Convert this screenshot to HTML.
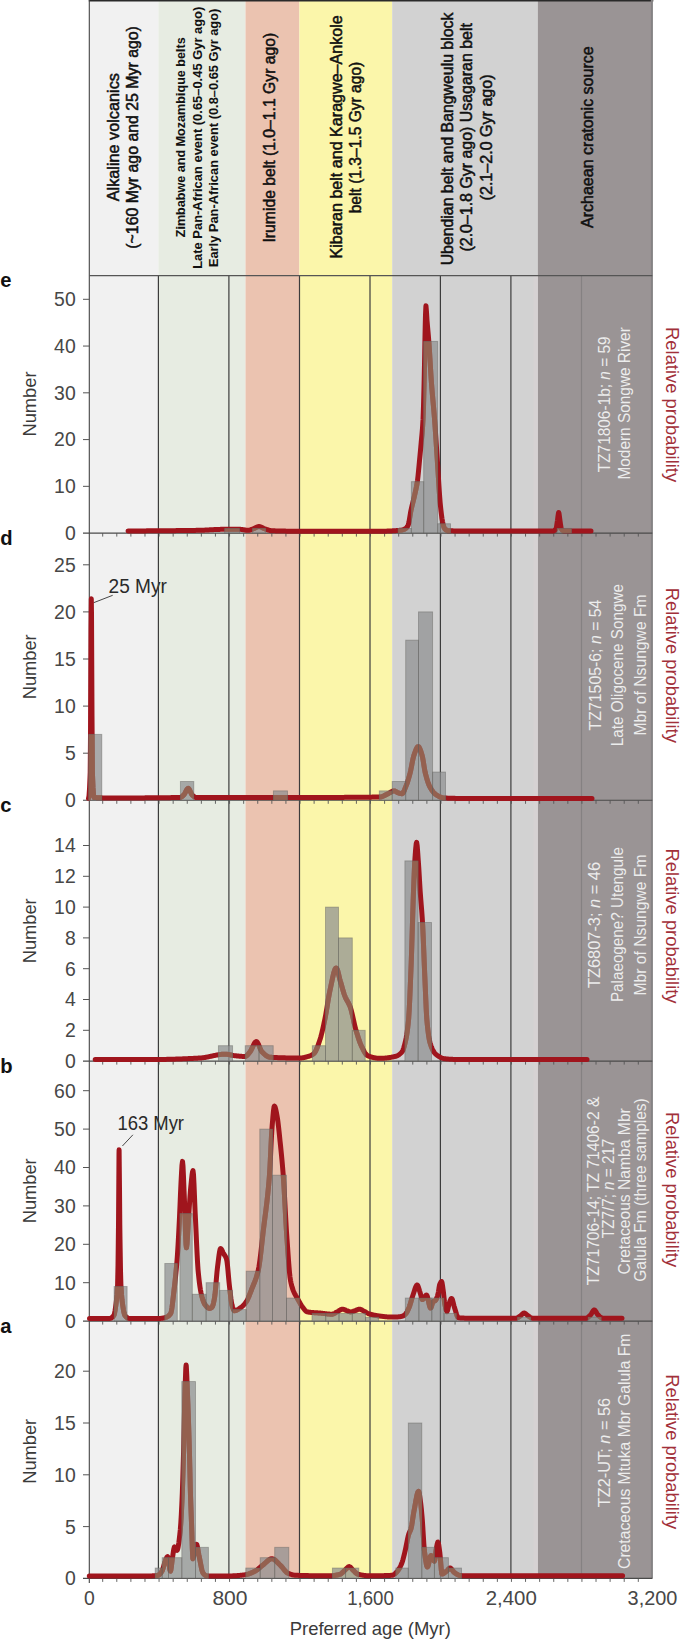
<!DOCTYPE html>
<html><head><meta charset="utf-8"><title>Detrital zircon age spectra</title>
<style>
html,body{margin:0;padding:0;background:#fff;}
body{width:685px;height:1640px;overflow:hidden;font-family:"Liberation Sans",sans-serif;}
svg{display:block;font-family:"Liberation Sans",sans-serif;}
</style></head>
<body>
<svg width="685" height="1640" viewBox="0 0 685 1640">
<rect width="685" height="1640" fill="#fff"/>
<rect x="89.3" y="0" width="69.10" height="1578.4" fill="#f1f1f1"/>
<rect x="158.4" y="0" width="87.10" height="1578.4" fill="#e7ece2"/>
<rect x="245.5" y="0" width="53.90" height="1578.4" fill="#ebc3b0"/>
<rect x="299.4" y="0" width="92.80" height="1578.4" fill="#fbf6aa"/>
<rect x="392.2" y="0" width="145.60" height="1578.4" fill="#d2d2d2"/>
<rect x="537.8" y="0" width="114.50" height="1578.4" fill="#9a9495"/>
<rect x="533.4" y="275.6" width="4.4" height="1302.8" fill="#d6d2d3"/>
<line x1="93.4" y1="602.8" x2="112.7" y2="595.3" stroke="#333" stroke-width="0.9"/>
<text x="108.6" y="592.7" font-size="19.4" font-weight="normal" fill="#2a2a2a" text-anchor="start" textLength="58.3" lengthAdjust="spacingAndGlyphs" >25 Myr</text>
<line x1="122.4" y1="1146.0" x2="132.9" y2="1134.8" stroke="#333" stroke-width="0.9"/>
<text x="117.4" y="1129.8" font-size="19.4" font-weight="normal" fill="#2a2a2a" text-anchor="start" textLength="66.6" lengthAdjust="spacingAndGlyphs" >163 Myr</text>
<line x1="158.4" y1="275.6" x2="158.4" y2="1578.4" stroke="#3c3c3c" stroke-width="1.2"/>
<line x1="228.9" y1="275.6" x2="228.9" y2="1578.4" stroke="#3c3c3c" stroke-width="1.2"/>
<line x1="299.5" y1="275.6" x2="299.5" y2="1578.4" stroke="#3c3c3c" stroke-width="1.2"/>
<line x1="370.0" y1="275.6" x2="370.0" y2="1578.4" stroke="#3c3c3c" stroke-width="1.2"/>
<line x1="440.4" y1="275.6" x2="440.4" y2="1578.4" stroke="#3c3c3c" stroke-width="1.2"/>
<line x1="510.9" y1="275.6" x2="510.9" y2="1578.4" stroke="#3c3c3c" stroke-width="1.2"/>
<line x1="581.5" y1="275.6" x2="581.5" y2="1578.4" stroke="#858182" stroke-width="1.2"/>
<line x1="88.8" y1="0.75" x2="653.3" y2="0.75" stroke="#2a2a2a" stroke-width="1.5"/>
<line x1="89.3" y1="0" x2="89.3" y2="1583" stroke="#444" stroke-width="1.1"/>
<line x1="651.9" y1="0" x2="651.9" y2="1578.4" stroke="#858384" stroke-width="2"/>
<line x1="89.3" y1="275.6" x2="652.3" y2="275.6" stroke="#555" stroke-width="1.1"/>
<line x1="83" y1="533.1" x2="652.3" y2="533.1" stroke="#4a4a4a" stroke-width="1.1"/>
<line x1="102.69" y1="533.1" x2="102.69" y2="536.6" stroke="#555" stroke-width="0.9"/>
<line x1="116.79" y1="533.1" x2="116.79" y2="536.6" stroke="#555" stroke-width="0.9"/>
<line x1="130.88" y1="533.1" x2="130.88" y2="536.6" stroke="#555" stroke-width="0.9"/>
<line x1="144.98" y1="533.1" x2="144.98" y2="536.6" stroke="#555" stroke-width="0.9"/>
<line x1="159.07" y1="533.1" x2="159.07" y2="536.6" stroke="#555" stroke-width="0.9"/>
<line x1="173.17" y1="533.1" x2="173.17" y2="536.6" stroke="#555" stroke-width="0.9"/>
<line x1="187.26" y1="533.1" x2="187.26" y2="536.6" stroke="#555" stroke-width="0.9"/>
<line x1="201.36" y1="533.1" x2="201.36" y2="536.6" stroke="#555" stroke-width="0.9"/>
<line x1="215.45" y1="533.1" x2="215.45" y2="536.6" stroke="#555" stroke-width="0.9"/>
<line x1="229.55" y1="533.1" x2="229.55" y2="536.6" stroke="#555" stroke-width="0.9"/>
<line x1="243.65" y1="533.1" x2="243.65" y2="536.6" stroke="#555" stroke-width="0.9"/>
<line x1="257.74" y1="533.1" x2="257.74" y2="536.6" stroke="#555" stroke-width="0.9"/>
<line x1="271.84" y1="533.1" x2="271.84" y2="536.6" stroke="#555" stroke-width="0.9"/>
<line x1="285.93" y1="533.1" x2="285.93" y2="536.6" stroke="#555" stroke-width="0.9"/>
<line x1="300.02" y1="533.1" x2="300.02" y2="536.6" stroke="#555" stroke-width="0.9"/>
<line x1="314.12" y1="533.1" x2="314.12" y2="536.6" stroke="#555" stroke-width="0.9"/>
<line x1="328.22" y1="533.1" x2="328.22" y2="536.6" stroke="#555" stroke-width="0.9"/>
<line x1="342.31" y1="533.1" x2="342.31" y2="536.6" stroke="#555" stroke-width="0.9"/>
<line x1="356.40" y1="533.1" x2="356.40" y2="536.6" stroke="#555" stroke-width="0.9"/>
<line x1="370.50" y1="533.1" x2="370.50" y2="536.6" stroke="#555" stroke-width="0.9"/>
<line x1="384.60" y1="533.1" x2="384.60" y2="536.6" stroke="#555" stroke-width="0.9"/>
<line x1="398.69" y1="533.1" x2="398.69" y2="536.6" stroke="#555" stroke-width="0.9"/>
<line x1="412.78" y1="533.1" x2="412.78" y2="536.6" stroke="#555" stroke-width="0.9"/>
<line x1="426.88" y1="533.1" x2="426.88" y2="536.6" stroke="#555" stroke-width="0.9"/>
<line x1="440.98" y1="533.1" x2="440.98" y2="536.6" stroke="#555" stroke-width="0.9"/>
<line x1="455.07" y1="533.1" x2="455.07" y2="536.6" stroke="#555" stroke-width="0.9"/>
<line x1="469.16" y1="533.1" x2="469.16" y2="536.6" stroke="#555" stroke-width="0.9"/>
<line x1="483.26" y1="533.1" x2="483.26" y2="536.6" stroke="#555" stroke-width="0.9"/>
<line x1="497.36" y1="533.1" x2="497.36" y2="536.6" stroke="#555" stroke-width="0.9"/>
<line x1="511.45" y1="533.1" x2="511.45" y2="536.6" stroke="#555" stroke-width="0.9"/>
<line x1="525.54" y1="533.1" x2="525.54" y2="536.6" stroke="#555" stroke-width="0.9"/>
<line x1="539.64" y1="533.1" x2="539.64" y2="536.6" stroke="#555" stroke-width="0.9"/>
<line x1="553.74" y1="533.1" x2="553.74" y2="536.6" stroke="#555" stroke-width="0.9"/>
<line x1="567.83" y1="533.1" x2="567.83" y2="536.6" stroke="#555" stroke-width="0.9"/>
<line x1="581.93" y1="533.1" x2="581.93" y2="536.6" stroke="#555" stroke-width="0.9"/>
<line x1="596.02" y1="533.1" x2="596.02" y2="536.6" stroke="#555" stroke-width="0.9"/>
<line x1="610.12" y1="533.1" x2="610.12" y2="536.6" stroke="#555" stroke-width="0.9"/>
<line x1="624.21" y1="533.1" x2="624.21" y2="536.6" stroke="#555" stroke-width="0.9"/>
<line x1="638.31" y1="533.1" x2="638.31" y2="536.6" stroke="#555" stroke-width="0.9"/>
<line x1="83" y1="486.34" x2="89.3" y2="486.34" stroke="#555" stroke-width="1"/>
<text x="75.7" y="493.24" font-size="19.4" font-weight="normal" fill="#474747" text-anchor="end" >10</text>
<line x1="83" y1="439.58" x2="89.3" y2="439.58" stroke="#555" stroke-width="1"/>
<text x="75.7" y="446.48" font-size="19.4" font-weight="normal" fill="#474747" text-anchor="end" >20</text>
<line x1="83" y1="392.82" x2="89.3" y2="392.82" stroke="#555" stroke-width="1"/>
<text x="75.7" y="399.72" font-size="19.4" font-weight="normal" fill="#474747" text-anchor="end" >30</text>
<line x1="83" y1="346.06" x2="89.3" y2="346.06" stroke="#555" stroke-width="1"/>
<text x="75.7" y="352.96" font-size="19.4" font-weight="normal" fill="#474747" text-anchor="end" >40</text>
<line x1="83" y1="299.30" x2="89.3" y2="299.30" stroke="#555" stroke-width="1"/>
<text x="75.7" y="306.20" font-size="19.4" font-weight="normal" fill="#474747" text-anchor="end" >50</text>
<text x="75.7" y="540.00" font-size="19.4" font-weight="normal" fill="#474747" text-anchor="end" >0</text>
<line x1="83" y1="800.3" x2="652.3" y2="800.3" stroke="#4a4a4a" stroke-width="1.1"/>
<line x1="102.69" y1="800.3" x2="102.69" y2="803.8" stroke="#555" stroke-width="0.9"/>
<line x1="116.79" y1="800.3" x2="116.79" y2="803.8" stroke="#555" stroke-width="0.9"/>
<line x1="130.88" y1="800.3" x2="130.88" y2="803.8" stroke="#555" stroke-width="0.9"/>
<line x1="144.98" y1="800.3" x2="144.98" y2="803.8" stroke="#555" stroke-width="0.9"/>
<line x1="159.07" y1="800.3" x2="159.07" y2="803.8" stroke="#555" stroke-width="0.9"/>
<line x1="173.17" y1="800.3" x2="173.17" y2="803.8" stroke="#555" stroke-width="0.9"/>
<line x1="187.26" y1="800.3" x2="187.26" y2="803.8" stroke="#555" stroke-width="0.9"/>
<line x1="201.36" y1="800.3" x2="201.36" y2="803.8" stroke="#555" stroke-width="0.9"/>
<line x1="215.45" y1="800.3" x2="215.45" y2="803.8" stroke="#555" stroke-width="0.9"/>
<line x1="229.55" y1="800.3" x2="229.55" y2="803.8" stroke="#555" stroke-width="0.9"/>
<line x1="243.65" y1="800.3" x2="243.65" y2="803.8" stroke="#555" stroke-width="0.9"/>
<line x1="257.74" y1="800.3" x2="257.74" y2="803.8" stroke="#555" stroke-width="0.9"/>
<line x1="271.84" y1="800.3" x2="271.84" y2="803.8" stroke="#555" stroke-width="0.9"/>
<line x1="285.93" y1="800.3" x2="285.93" y2="803.8" stroke="#555" stroke-width="0.9"/>
<line x1="300.02" y1="800.3" x2="300.02" y2="803.8" stroke="#555" stroke-width="0.9"/>
<line x1="314.12" y1="800.3" x2="314.12" y2="803.8" stroke="#555" stroke-width="0.9"/>
<line x1="328.22" y1="800.3" x2="328.22" y2="803.8" stroke="#555" stroke-width="0.9"/>
<line x1="342.31" y1="800.3" x2="342.31" y2="803.8" stroke="#555" stroke-width="0.9"/>
<line x1="356.40" y1="800.3" x2="356.40" y2="803.8" stroke="#555" stroke-width="0.9"/>
<line x1="370.50" y1="800.3" x2="370.50" y2="803.8" stroke="#555" stroke-width="0.9"/>
<line x1="384.60" y1="800.3" x2="384.60" y2="803.8" stroke="#555" stroke-width="0.9"/>
<line x1="398.69" y1="800.3" x2="398.69" y2="803.8" stroke="#555" stroke-width="0.9"/>
<line x1="412.78" y1="800.3" x2="412.78" y2="803.8" stroke="#555" stroke-width="0.9"/>
<line x1="426.88" y1="800.3" x2="426.88" y2="803.8" stroke="#555" stroke-width="0.9"/>
<line x1="440.98" y1="800.3" x2="440.98" y2="803.8" stroke="#555" stroke-width="0.9"/>
<line x1="455.07" y1="800.3" x2="455.07" y2="803.8" stroke="#555" stroke-width="0.9"/>
<line x1="469.16" y1="800.3" x2="469.16" y2="803.8" stroke="#555" stroke-width="0.9"/>
<line x1="483.26" y1="800.3" x2="483.26" y2="803.8" stroke="#555" stroke-width="0.9"/>
<line x1="497.36" y1="800.3" x2="497.36" y2="803.8" stroke="#555" stroke-width="0.9"/>
<line x1="511.45" y1="800.3" x2="511.45" y2="803.8" stroke="#555" stroke-width="0.9"/>
<line x1="525.54" y1="800.3" x2="525.54" y2="803.8" stroke="#555" stroke-width="0.9"/>
<line x1="539.64" y1="800.3" x2="539.64" y2="803.8" stroke="#555" stroke-width="0.9"/>
<line x1="553.74" y1="800.3" x2="553.74" y2="803.8" stroke="#555" stroke-width="0.9"/>
<line x1="567.83" y1="800.3" x2="567.83" y2="803.8" stroke="#555" stroke-width="0.9"/>
<line x1="581.93" y1="800.3" x2="581.93" y2="803.8" stroke="#555" stroke-width="0.9"/>
<line x1="596.02" y1="800.3" x2="596.02" y2="803.8" stroke="#555" stroke-width="0.9"/>
<line x1="610.12" y1="800.3" x2="610.12" y2="803.8" stroke="#555" stroke-width="0.9"/>
<line x1="624.21" y1="800.3" x2="624.21" y2="803.8" stroke="#555" stroke-width="0.9"/>
<line x1="638.31" y1="800.3" x2="638.31" y2="803.8" stroke="#555" stroke-width="0.9"/>
<line x1="83" y1="753.20" x2="89.3" y2="753.20" stroke="#555" stroke-width="1"/>
<text x="75.7" y="760.10" font-size="19.4" font-weight="normal" fill="#474747" text-anchor="end" >5</text>
<line x1="83" y1="706.10" x2="89.3" y2="706.10" stroke="#555" stroke-width="1"/>
<text x="75.7" y="713.00" font-size="19.4" font-weight="normal" fill="#474747" text-anchor="end" >10</text>
<line x1="83" y1="659.00" x2="89.3" y2="659.00" stroke="#555" stroke-width="1"/>
<text x="75.7" y="665.90" font-size="19.4" font-weight="normal" fill="#474747" text-anchor="end" >15</text>
<line x1="83" y1="611.90" x2="89.3" y2="611.90" stroke="#555" stroke-width="1"/>
<text x="75.7" y="618.80" font-size="19.4" font-weight="normal" fill="#474747" text-anchor="end" >20</text>
<line x1="83" y1="564.80" x2="89.3" y2="564.80" stroke="#555" stroke-width="1"/>
<text x="75.7" y="571.70" font-size="19.4" font-weight="normal" fill="#474747" text-anchor="end" >25</text>
<text x="75.7" y="807.20" font-size="19.4" font-weight="normal" fill="#474747" text-anchor="end" >0</text>
<line x1="83" y1="1061.1" x2="652.3" y2="1061.1" stroke="#4a4a4a" stroke-width="1.1"/>
<line x1="102.69" y1="1061.1" x2="102.69" y2="1064.6" stroke="#555" stroke-width="0.9"/>
<line x1="116.79" y1="1061.1" x2="116.79" y2="1064.6" stroke="#555" stroke-width="0.9"/>
<line x1="130.88" y1="1061.1" x2="130.88" y2="1064.6" stroke="#555" stroke-width="0.9"/>
<line x1="144.98" y1="1061.1" x2="144.98" y2="1064.6" stroke="#555" stroke-width="0.9"/>
<line x1="159.07" y1="1061.1" x2="159.07" y2="1064.6" stroke="#555" stroke-width="0.9"/>
<line x1="173.17" y1="1061.1" x2="173.17" y2="1064.6" stroke="#555" stroke-width="0.9"/>
<line x1="187.26" y1="1061.1" x2="187.26" y2="1064.6" stroke="#555" stroke-width="0.9"/>
<line x1="201.36" y1="1061.1" x2="201.36" y2="1064.6" stroke="#555" stroke-width="0.9"/>
<line x1="215.45" y1="1061.1" x2="215.45" y2="1064.6" stroke="#555" stroke-width="0.9"/>
<line x1="229.55" y1="1061.1" x2="229.55" y2="1064.6" stroke="#555" stroke-width="0.9"/>
<line x1="243.65" y1="1061.1" x2="243.65" y2="1064.6" stroke="#555" stroke-width="0.9"/>
<line x1="257.74" y1="1061.1" x2="257.74" y2="1064.6" stroke="#555" stroke-width="0.9"/>
<line x1="271.84" y1="1061.1" x2="271.84" y2="1064.6" stroke="#555" stroke-width="0.9"/>
<line x1="285.93" y1="1061.1" x2="285.93" y2="1064.6" stroke="#555" stroke-width="0.9"/>
<line x1="300.02" y1="1061.1" x2="300.02" y2="1064.6" stroke="#555" stroke-width="0.9"/>
<line x1="314.12" y1="1061.1" x2="314.12" y2="1064.6" stroke="#555" stroke-width="0.9"/>
<line x1="328.22" y1="1061.1" x2="328.22" y2="1064.6" stroke="#555" stroke-width="0.9"/>
<line x1="342.31" y1="1061.1" x2="342.31" y2="1064.6" stroke="#555" stroke-width="0.9"/>
<line x1="356.40" y1="1061.1" x2="356.40" y2="1064.6" stroke="#555" stroke-width="0.9"/>
<line x1="370.50" y1="1061.1" x2="370.50" y2="1064.6" stroke="#555" stroke-width="0.9"/>
<line x1="384.60" y1="1061.1" x2="384.60" y2="1064.6" stroke="#555" stroke-width="0.9"/>
<line x1="398.69" y1="1061.1" x2="398.69" y2="1064.6" stroke="#555" stroke-width="0.9"/>
<line x1="412.78" y1="1061.1" x2="412.78" y2="1064.6" stroke="#555" stroke-width="0.9"/>
<line x1="426.88" y1="1061.1" x2="426.88" y2="1064.6" stroke="#555" stroke-width="0.9"/>
<line x1="440.98" y1="1061.1" x2="440.98" y2="1064.6" stroke="#555" stroke-width="0.9"/>
<line x1="455.07" y1="1061.1" x2="455.07" y2="1064.6" stroke="#555" stroke-width="0.9"/>
<line x1="469.16" y1="1061.1" x2="469.16" y2="1064.6" stroke="#555" stroke-width="0.9"/>
<line x1="483.26" y1="1061.1" x2="483.26" y2="1064.6" stroke="#555" stroke-width="0.9"/>
<line x1="497.36" y1="1061.1" x2="497.36" y2="1064.6" stroke="#555" stroke-width="0.9"/>
<line x1="511.45" y1="1061.1" x2="511.45" y2="1064.6" stroke="#555" stroke-width="0.9"/>
<line x1="525.54" y1="1061.1" x2="525.54" y2="1064.6" stroke="#555" stroke-width="0.9"/>
<line x1="539.64" y1="1061.1" x2="539.64" y2="1064.6" stroke="#555" stroke-width="0.9"/>
<line x1="553.74" y1="1061.1" x2="553.74" y2="1064.6" stroke="#555" stroke-width="0.9"/>
<line x1="567.83" y1="1061.1" x2="567.83" y2="1064.6" stroke="#555" stroke-width="0.9"/>
<line x1="581.93" y1="1061.1" x2="581.93" y2="1064.6" stroke="#555" stroke-width="0.9"/>
<line x1="596.02" y1="1061.1" x2="596.02" y2="1064.6" stroke="#555" stroke-width="0.9"/>
<line x1="610.12" y1="1061.1" x2="610.12" y2="1064.6" stroke="#555" stroke-width="0.9"/>
<line x1="624.21" y1="1061.1" x2="624.21" y2="1064.6" stroke="#555" stroke-width="0.9"/>
<line x1="638.31" y1="1061.1" x2="638.31" y2="1064.6" stroke="#555" stroke-width="0.9"/>
<line x1="83" y1="1030.30" x2="89.3" y2="1030.30" stroke="#555" stroke-width="1"/>
<text x="75.7" y="1037.20" font-size="19.4" font-weight="normal" fill="#474747" text-anchor="end" >2</text>
<line x1="83" y1="999.50" x2="89.3" y2="999.50" stroke="#555" stroke-width="1"/>
<text x="75.7" y="1006.40" font-size="19.4" font-weight="normal" fill="#474747" text-anchor="end" >4</text>
<line x1="83" y1="968.70" x2="89.3" y2="968.70" stroke="#555" stroke-width="1"/>
<text x="75.7" y="975.60" font-size="19.4" font-weight="normal" fill="#474747" text-anchor="end" >6</text>
<line x1="83" y1="937.90" x2="89.3" y2="937.90" stroke="#555" stroke-width="1"/>
<text x="75.7" y="944.80" font-size="19.4" font-weight="normal" fill="#474747" text-anchor="end" >8</text>
<line x1="83" y1="907.10" x2="89.3" y2="907.10" stroke="#555" stroke-width="1"/>
<text x="75.7" y="914.00" font-size="19.4" font-weight="normal" fill="#474747" text-anchor="end" >10</text>
<line x1="83" y1="876.30" x2="89.3" y2="876.30" stroke="#555" stroke-width="1"/>
<text x="75.7" y="883.20" font-size="19.4" font-weight="normal" fill="#474747" text-anchor="end" >12</text>
<line x1="83" y1="845.50" x2="89.3" y2="845.50" stroke="#555" stroke-width="1"/>
<text x="75.7" y="852.40" font-size="19.4" font-weight="normal" fill="#474747" text-anchor="end" >14</text>
<text x="75.7" y="1068.00" font-size="19.4" font-weight="normal" fill="#474747" text-anchor="end" >0</text>
<line x1="83" y1="1321.1" x2="652.3" y2="1321.1" stroke="#4a4a4a" stroke-width="1.1"/>
<line x1="102.69" y1="1321.1" x2="102.69" y2="1324.6" stroke="#555" stroke-width="0.9"/>
<line x1="116.79" y1="1321.1" x2="116.79" y2="1324.6" stroke="#555" stroke-width="0.9"/>
<line x1="130.88" y1="1321.1" x2="130.88" y2="1324.6" stroke="#555" stroke-width="0.9"/>
<line x1="144.98" y1="1321.1" x2="144.98" y2="1324.6" stroke="#555" stroke-width="0.9"/>
<line x1="159.07" y1="1321.1" x2="159.07" y2="1324.6" stroke="#555" stroke-width="0.9"/>
<line x1="173.17" y1="1321.1" x2="173.17" y2="1324.6" stroke="#555" stroke-width="0.9"/>
<line x1="187.26" y1="1321.1" x2="187.26" y2="1324.6" stroke="#555" stroke-width="0.9"/>
<line x1="201.36" y1="1321.1" x2="201.36" y2="1324.6" stroke="#555" stroke-width="0.9"/>
<line x1="215.45" y1="1321.1" x2="215.45" y2="1324.6" stroke="#555" stroke-width="0.9"/>
<line x1="229.55" y1="1321.1" x2="229.55" y2="1324.6" stroke="#555" stroke-width="0.9"/>
<line x1="243.65" y1="1321.1" x2="243.65" y2="1324.6" stroke="#555" stroke-width="0.9"/>
<line x1="257.74" y1="1321.1" x2="257.74" y2="1324.6" stroke="#555" stroke-width="0.9"/>
<line x1="271.84" y1="1321.1" x2="271.84" y2="1324.6" stroke="#555" stroke-width="0.9"/>
<line x1="285.93" y1="1321.1" x2="285.93" y2="1324.6" stroke="#555" stroke-width="0.9"/>
<line x1="300.02" y1="1321.1" x2="300.02" y2="1324.6" stroke="#555" stroke-width="0.9"/>
<line x1="314.12" y1="1321.1" x2="314.12" y2="1324.6" stroke="#555" stroke-width="0.9"/>
<line x1="328.22" y1="1321.1" x2="328.22" y2="1324.6" stroke="#555" stroke-width="0.9"/>
<line x1="342.31" y1="1321.1" x2="342.31" y2="1324.6" stroke="#555" stroke-width="0.9"/>
<line x1="356.40" y1="1321.1" x2="356.40" y2="1324.6" stroke="#555" stroke-width="0.9"/>
<line x1="370.50" y1="1321.1" x2="370.50" y2="1324.6" stroke="#555" stroke-width="0.9"/>
<line x1="384.60" y1="1321.1" x2="384.60" y2="1324.6" stroke="#555" stroke-width="0.9"/>
<line x1="398.69" y1="1321.1" x2="398.69" y2="1324.6" stroke="#555" stroke-width="0.9"/>
<line x1="412.78" y1="1321.1" x2="412.78" y2="1324.6" stroke="#555" stroke-width="0.9"/>
<line x1="426.88" y1="1321.1" x2="426.88" y2="1324.6" stroke="#555" stroke-width="0.9"/>
<line x1="440.98" y1="1321.1" x2="440.98" y2="1324.6" stroke="#555" stroke-width="0.9"/>
<line x1="455.07" y1="1321.1" x2="455.07" y2="1324.6" stroke="#555" stroke-width="0.9"/>
<line x1="469.16" y1="1321.1" x2="469.16" y2="1324.6" stroke="#555" stroke-width="0.9"/>
<line x1="483.26" y1="1321.1" x2="483.26" y2="1324.6" stroke="#555" stroke-width="0.9"/>
<line x1="497.36" y1="1321.1" x2="497.36" y2="1324.6" stroke="#555" stroke-width="0.9"/>
<line x1="511.45" y1="1321.1" x2="511.45" y2="1324.6" stroke="#555" stroke-width="0.9"/>
<line x1="525.54" y1="1321.1" x2="525.54" y2="1324.6" stroke="#555" stroke-width="0.9"/>
<line x1="539.64" y1="1321.1" x2="539.64" y2="1324.6" stroke="#555" stroke-width="0.9"/>
<line x1="553.74" y1="1321.1" x2="553.74" y2="1324.6" stroke="#555" stroke-width="0.9"/>
<line x1="567.83" y1="1321.1" x2="567.83" y2="1324.6" stroke="#555" stroke-width="0.9"/>
<line x1="581.93" y1="1321.1" x2="581.93" y2="1324.6" stroke="#555" stroke-width="0.9"/>
<line x1="596.02" y1="1321.1" x2="596.02" y2="1324.6" stroke="#555" stroke-width="0.9"/>
<line x1="610.12" y1="1321.1" x2="610.12" y2="1324.6" stroke="#555" stroke-width="0.9"/>
<line x1="624.21" y1="1321.1" x2="624.21" y2="1324.6" stroke="#555" stroke-width="0.9"/>
<line x1="638.31" y1="1321.1" x2="638.31" y2="1324.6" stroke="#555" stroke-width="0.9"/>
<line x1="83" y1="1282.70" x2="89.3" y2="1282.70" stroke="#555" stroke-width="1"/>
<text x="75.7" y="1289.60" font-size="19.4" font-weight="normal" fill="#474747" text-anchor="end" >10</text>
<line x1="83" y1="1244.30" x2="89.3" y2="1244.30" stroke="#555" stroke-width="1"/>
<text x="75.7" y="1251.20" font-size="19.4" font-weight="normal" fill="#474747" text-anchor="end" >20</text>
<line x1="83" y1="1205.90" x2="89.3" y2="1205.90" stroke="#555" stroke-width="1"/>
<text x="75.7" y="1212.80" font-size="19.4" font-weight="normal" fill="#474747" text-anchor="end" >30</text>
<line x1="83" y1="1167.50" x2="89.3" y2="1167.50" stroke="#555" stroke-width="1"/>
<text x="75.7" y="1174.40" font-size="19.4" font-weight="normal" fill="#474747" text-anchor="end" >40</text>
<line x1="83" y1="1129.10" x2="89.3" y2="1129.10" stroke="#555" stroke-width="1"/>
<text x="75.7" y="1136.00" font-size="19.4" font-weight="normal" fill="#474747" text-anchor="end" >50</text>
<line x1="83" y1="1090.70" x2="89.3" y2="1090.70" stroke="#555" stroke-width="1"/>
<text x="75.7" y="1097.60" font-size="19.4" font-weight="normal" fill="#474747" text-anchor="end" >60</text>
<text x="75.7" y="1328.00" font-size="19.4" font-weight="normal" fill="#474747" text-anchor="end" >0</text>
<line x1="83" y1="1578.4" x2="652.3" y2="1578.4" stroke="#4a4a4a" stroke-width="1.1"/>
<line x1="102.69" y1="1578.4" x2="102.69" y2="1581.9" stroke="#555" stroke-width="0.9"/>
<line x1="116.79" y1="1578.4" x2="116.79" y2="1581.9" stroke="#555" stroke-width="0.9"/>
<line x1="130.88" y1="1578.4" x2="130.88" y2="1581.9" stroke="#555" stroke-width="0.9"/>
<line x1="144.98" y1="1578.4" x2="144.98" y2="1581.9" stroke="#555" stroke-width="0.9"/>
<line x1="159.07" y1="1578.4" x2="159.07" y2="1581.9" stroke="#555" stroke-width="0.9"/>
<line x1="173.17" y1="1578.4" x2="173.17" y2="1581.9" stroke="#555" stroke-width="0.9"/>
<line x1="187.26" y1="1578.4" x2="187.26" y2="1581.9" stroke="#555" stroke-width="0.9"/>
<line x1="201.36" y1="1578.4" x2="201.36" y2="1581.9" stroke="#555" stroke-width="0.9"/>
<line x1="215.45" y1="1578.4" x2="215.45" y2="1581.9" stroke="#555" stroke-width="0.9"/>
<line x1="229.55" y1="1578.4" x2="229.55" y2="1581.9" stroke="#555" stroke-width="0.9"/>
<line x1="243.65" y1="1578.4" x2="243.65" y2="1581.9" stroke="#555" stroke-width="0.9"/>
<line x1="257.74" y1="1578.4" x2="257.74" y2="1581.9" stroke="#555" stroke-width="0.9"/>
<line x1="271.84" y1="1578.4" x2="271.84" y2="1581.9" stroke="#555" stroke-width="0.9"/>
<line x1="285.93" y1="1578.4" x2="285.93" y2="1581.9" stroke="#555" stroke-width="0.9"/>
<line x1="300.02" y1="1578.4" x2="300.02" y2="1581.9" stroke="#555" stroke-width="0.9"/>
<line x1="314.12" y1="1578.4" x2="314.12" y2="1581.9" stroke="#555" stroke-width="0.9"/>
<line x1="328.22" y1="1578.4" x2="328.22" y2="1581.9" stroke="#555" stroke-width="0.9"/>
<line x1="342.31" y1="1578.4" x2="342.31" y2="1581.9" stroke="#555" stroke-width="0.9"/>
<line x1="356.40" y1="1578.4" x2="356.40" y2="1581.9" stroke="#555" stroke-width="0.9"/>
<line x1="370.50" y1="1578.4" x2="370.50" y2="1581.9" stroke="#555" stroke-width="0.9"/>
<line x1="384.60" y1="1578.4" x2="384.60" y2="1581.9" stroke="#555" stroke-width="0.9"/>
<line x1="398.69" y1="1578.4" x2="398.69" y2="1581.9" stroke="#555" stroke-width="0.9"/>
<line x1="412.78" y1="1578.4" x2="412.78" y2="1581.9" stroke="#555" stroke-width="0.9"/>
<line x1="426.88" y1="1578.4" x2="426.88" y2="1581.9" stroke="#555" stroke-width="0.9"/>
<line x1="440.98" y1="1578.4" x2="440.98" y2="1581.9" stroke="#555" stroke-width="0.9"/>
<line x1="455.07" y1="1578.4" x2="455.07" y2="1581.9" stroke="#555" stroke-width="0.9"/>
<line x1="469.16" y1="1578.4" x2="469.16" y2="1581.9" stroke="#555" stroke-width="0.9"/>
<line x1="483.26" y1="1578.4" x2="483.26" y2="1581.9" stroke="#555" stroke-width="0.9"/>
<line x1="497.36" y1="1578.4" x2="497.36" y2="1581.9" stroke="#555" stroke-width="0.9"/>
<line x1="511.45" y1="1578.4" x2="511.45" y2="1581.9" stroke="#555" stroke-width="0.9"/>
<line x1="525.54" y1="1578.4" x2="525.54" y2="1581.9" stroke="#555" stroke-width="0.9"/>
<line x1="539.64" y1="1578.4" x2="539.64" y2="1581.9" stroke="#555" stroke-width="0.9"/>
<line x1="553.74" y1="1578.4" x2="553.74" y2="1581.9" stroke="#555" stroke-width="0.9"/>
<line x1="567.83" y1="1578.4" x2="567.83" y2="1581.9" stroke="#555" stroke-width="0.9"/>
<line x1="581.93" y1="1578.4" x2="581.93" y2="1581.9" stroke="#555" stroke-width="0.9"/>
<line x1="596.02" y1="1578.4" x2="596.02" y2="1581.9" stroke="#555" stroke-width="0.9"/>
<line x1="610.12" y1="1578.4" x2="610.12" y2="1581.9" stroke="#555" stroke-width="0.9"/>
<line x1="624.21" y1="1578.4" x2="624.21" y2="1581.9" stroke="#555" stroke-width="0.9"/>
<line x1="638.31" y1="1578.4" x2="638.31" y2="1581.9" stroke="#555" stroke-width="0.9"/>
<line x1="83" y1="1526.60" x2="89.3" y2="1526.60" stroke="#555" stroke-width="1"/>
<text x="75.7" y="1533.50" font-size="19.4" font-weight="normal" fill="#474747" text-anchor="end" >5</text>
<line x1="83" y1="1474.80" x2="89.3" y2="1474.80" stroke="#555" stroke-width="1"/>
<text x="75.7" y="1481.70" font-size="19.4" font-weight="normal" fill="#474747" text-anchor="end" >10</text>
<line x1="83" y1="1423.00" x2="89.3" y2="1423.00" stroke="#555" stroke-width="1"/>
<text x="75.7" y="1429.90" font-size="19.4" font-weight="normal" fill="#474747" text-anchor="end" >15</text>
<line x1="83" y1="1371.20" x2="89.3" y2="1371.20" stroke="#555" stroke-width="1"/>
<text x="75.7" y="1378.10" font-size="19.4" font-weight="normal" fill="#474747" text-anchor="end" >20</text>
<text x="75.7" y="1585.30" font-size="19.4" font-weight="normal" fill="#474747" text-anchor="end" >0</text>
<defs><path id="cve" d="M128.00,531.00 L128.50,530.99 L129.00,530.99 L129.50,530.99 L130.00,530.98 L130.50,530.98 L131.00,530.98 L131.50,530.98 L132.00,530.97 L132.50,530.97 L133.00,530.97 L133.50,530.96 L134.00,530.96 L134.50,530.96 L135.00,530.95 L135.50,530.95 L136.00,530.95 L136.50,530.95 L137.00,530.94 L137.50,530.94 L138.00,530.94 L138.50,530.93 L139.00,530.93 L139.50,530.93 L140.00,530.92 L140.50,530.92 L141.00,530.91 L141.50,530.91 L142.00,530.91 L142.50,530.90 L143.00,530.90 L143.50,530.90 L144.00,530.89 L144.50,530.89 L145.00,530.89 L145.50,530.88 L146.00,530.88 L146.50,530.87 L147.00,530.87 L147.50,530.87 L148.00,530.86 L148.50,530.86 L149.00,530.85 L149.50,530.85 L150.00,530.85 L150.50,530.84 L151.00,530.84 L151.50,530.83 L152.00,530.83 L152.50,530.83 L153.00,530.82 L153.50,530.82 L154.00,530.81 L154.50,530.81 L155.00,530.81 L155.50,530.80 L156.00,530.80 L156.50,530.79 L157.00,530.79 L157.50,530.78 L158.00,530.78 L158.50,530.78 L159.00,530.77 L159.50,530.77 L160.00,530.76 L160.50,530.76 L161.00,530.75 L161.50,530.75 L162.00,530.74 L162.50,530.74 L163.00,530.74 L163.50,530.73 L164.00,530.73 L164.50,530.72 L165.00,530.72 L165.50,530.71 L166.00,530.71 L166.50,530.71 L167.00,530.70 L167.50,530.70 L168.00,530.69 L168.50,530.69 L169.00,530.68 L169.50,530.68 L170.00,530.68 L170.50,530.67 L171.00,530.67 L171.50,530.66 L172.00,530.66 L172.50,530.65 L173.00,530.65 L173.50,530.64 L174.00,530.64 L174.50,530.63 L175.00,530.63 L175.50,530.63 L176.00,530.62 L176.50,530.62 L177.00,530.61 L177.50,530.61 L178.00,530.60 L178.50,530.60 L179.00,530.59 L179.50,530.59 L180.00,530.58 L180.50,530.58 L181.00,530.57 L181.50,530.56 L182.00,530.56 L182.50,530.55 L183.00,530.55 L183.50,530.54 L184.00,530.54 L184.50,530.53 L185.00,530.52 L185.50,530.52 L186.00,530.51 L186.50,530.51 L187.00,530.50 L187.50,530.49 L188.00,530.49 L188.50,530.48 L189.00,530.47 L189.50,530.47 L190.00,530.46 L190.50,530.45 L191.00,530.45 L191.50,530.44 L192.00,530.43 L192.50,530.42 L193.00,530.42 L193.50,530.41 L194.00,530.40 L194.50,530.39 L195.00,530.38 L195.50,530.38 L196.00,530.37 L196.50,530.36 L197.00,530.35 L197.50,530.34 L198.00,530.33 L198.50,530.32 L199.00,530.31 L199.50,530.30 L200.00,530.29 L200.50,530.28 L201.00,530.27 L201.50,530.26 L202.00,530.24 L202.50,530.22 L203.00,530.20 L203.50,530.18 L204.00,530.16 L204.50,530.14 L205.00,530.11 L205.50,530.09 L206.00,530.06 L206.50,530.04 L207.00,530.01 L207.50,529.98 L208.00,529.95 L208.50,529.92 L209.00,529.89 L209.50,529.86 L210.00,529.83 L210.50,529.80 L211.00,529.77 L211.50,529.74 L212.00,529.72 L212.50,529.69 L213.00,529.66 L213.50,529.63 L214.00,529.60 L214.50,529.58 L215.00,529.55 L215.50,529.53 L216.00,529.51 L216.50,529.49 L217.00,529.47 L217.50,529.45 L218.00,529.43 L218.50,529.41 L219.00,529.40 L219.50,529.39 L220.00,529.38 L220.50,529.37 L221.00,529.36 L221.50,529.36 L222.00,529.36 L222.50,529.36 L223.00,529.36 L223.50,529.36 L224.00,529.36 L224.50,529.36 L225.00,529.36 L225.50,529.36 L226.00,529.36 L226.50,529.36 L227.00,529.36 L227.50,529.36 L228.00,529.36 L228.50,529.36 L229.00,529.36 L229.50,529.36 L230.00,529.36 L230.50,529.36 L231.00,529.36 L231.50,529.36 L232.00,529.36 L232.50,529.36 L233.00,529.36 L233.50,529.36 L234.00,529.36 L234.50,529.36 L235.00,529.36 L235.50,529.36 L236.00,529.36 L236.50,529.36 L237.00,529.36 L237.50,529.36 L238.00,529.36 L238.50,529.36 L239.00,529.36 L239.50,529.36 L240.00,529.36 L240.50,529.37 L241.00,529.40 L241.50,529.45 L242.00,529.51 L242.50,529.58 L243.00,529.66 L243.50,529.74 L244.00,529.83 L244.50,529.91 L245.00,530.00 L245.50,530.08 L246.00,530.15 L246.50,530.21 L247.00,530.25 L247.50,530.28 L248.00,530.29 L248.50,530.27 L249.00,530.20 L249.50,530.09 L250.00,529.96 L250.50,529.80 L251.00,529.62 L251.50,529.43 L252.00,529.25 L252.50,529.06 L253.00,528.89 L253.50,528.71 L254.00,528.49 L254.50,528.25 L255.00,528.00 L255.50,527.74 L256.00,527.48 L256.50,527.24 L257.00,527.02 L257.50,526.83 L258.00,526.68 L258.50,526.59 L259.00,526.55 L259.50,526.59 L260.00,526.68 L260.50,526.83 L261.00,527.02 L261.50,527.24 L262.00,527.48 L262.50,527.74 L263.00,528.00 L263.50,528.26 L264.00,528.50 L264.50,528.71 L265.00,528.89 L265.50,529.05 L266.00,529.22 L266.50,529.40 L267.00,529.57 L267.50,529.74 L268.00,529.91 L268.50,530.07 L269.00,530.22 L269.50,530.36 L270.00,530.48 L270.50,530.59 L271.00,530.67 L271.50,530.73 L272.00,530.76 L272.50,530.78 L273.00,530.80 L273.50,530.82 L274.00,530.83 L274.50,530.85 L275.00,530.87 L275.50,530.88 L276.00,530.90 L276.50,530.92 L277.00,530.93 L277.50,530.94 L278.00,530.96 L278.50,530.97 L279.00,530.99 L279.50,531.00 L280.00,531.01 L280.50,531.02 L281.00,531.03 L281.50,531.05 L282.00,531.06 L282.50,531.07 L283.00,531.08 L283.50,531.09 L284.00,531.10 L284.50,531.10 L285.00,531.11 L285.50,531.12 L286.00,531.13 L286.50,531.14 L287.00,531.14 L287.50,531.15 L288.00,531.16 L288.50,531.16 L289.00,531.17 L289.50,531.18 L290.00,531.18 L290.50,531.19 L291.00,531.19 L291.50,531.20 L292.00,531.20 L292.50,531.20 L293.00,531.21 L293.50,531.21 L294.00,531.21 L294.50,531.22 L295.00,531.22 L295.50,531.22 L296.00,531.22 L296.50,531.22 L297.00,531.23 L297.50,531.23 L298.00,531.23 L298.50,531.23 L299.00,531.23 L299.50,531.23 L300.00,531.23 L300.50,531.23 L301.00,531.23 L301.50,531.23 L302.00,531.23 L302.50,531.23 L303.00,531.23 L303.50,531.23 L304.00,531.23 L304.50,531.23 L305.00,531.23 L305.50,531.23 L306.00,531.23 L306.50,531.23 L307.00,531.23 L307.50,531.23 L308.00,531.23 L308.50,531.23 L309.00,531.23 L309.50,531.23 L310.00,531.23 L310.50,531.23 L311.00,531.23 L311.50,531.23 L312.00,531.23 L312.50,531.23 L313.00,531.23 L313.50,531.23 L314.00,531.23 L314.50,531.23 L315.00,531.23 L315.50,531.23 L316.00,531.23 L316.50,531.23 L317.00,531.23 L317.50,531.23 L318.00,531.23 L318.50,531.23 L319.00,531.23 L319.50,531.23 L320.00,531.23 L320.50,531.23 L321.00,531.23 L321.50,531.23 L322.00,531.23 L322.50,531.23 L323.00,531.23 L323.50,531.23 L324.00,531.23 L324.50,531.23 L325.00,531.23 L325.50,531.23 L326.00,531.23 L326.50,531.23 L327.00,531.23 L327.50,531.23 L328.00,531.23 L328.50,531.23 L329.00,531.23 L329.50,531.23 L330.00,531.23 L330.50,531.23 L331.00,531.23 L331.50,531.23 L332.00,531.23 L332.50,531.23 L333.00,531.23 L333.50,531.23 L334.00,531.23 L334.50,531.23 L335.00,531.23 L335.50,531.23 L336.00,531.23 L336.50,531.23 L337.00,531.23 L337.50,531.23 L338.00,531.23 L338.50,531.23 L339.00,531.23 L339.50,531.23 L340.00,531.23 L340.50,531.23 L341.00,531.23 L341.50,531.23 L342.00,531.23 L342.50,531.23 L343.00,531.23 L343.50,531.23 L344.00,531.23 L344.50,531.23 L345.00,531.23 L345.50,531.23 L346.00,531.23 L346.50,531.23 L347.00,531.23 L347.50,531.23 L348.00,531.23 L348.50,531.23 L349.00,531.23 L349.50,531.23 L350.00,531.23 L350.50,531.23 L351.00,531.23 L351.50,531.23 L352.00,531.23 L352.50,531.23 L353.00,531.23 L353.50,531.23 L354.00,531.23 L354.50,531.23 L355.00,531.23 L355.50,531.23 L356.00,531.23 L356.50,531.23 L357.00,531.23 L357.50,531.23 L358.00,531.23 L358.50,531.23 L359.00,531.23 L359.50,531.23 L360.00,531.23 L360.50,531.23 L361.00,531.23 L361.50,531.23 L362.00,531.23 L362.50,531.23 L363.00,531.23 L363.50,531.23 L364.00,531.23 L364.50,531.23 L365.00,531.23 L365.50,531.23 L366.00,531.23 L366.50,531.23 L367.00,531.23 L367.50,531.23 L368.00,531.23 L368.50,531.23 L369.00,531.23 L369.50,531.23 L370.00,531.23 L370.50,531.23 L371.00,531.23 L371.50,531.23 L372.00,531.23 L372.50,531.23 L373.00,531.23 L373.50,531.23 L374.00,531.23 L374.50,531.23 L375.00,531.23 L375.50,531.23 L376.00,531.23 L376.50,531.23 L377.00,531.23 L377.50,531.23 L378.00,531.23 L378.50,531.23 L379.00,531.23 L379.50,531.23 L380.00,531.23 L380.50,531.23 L381.00,531.23 L381.50,531.22 L382.00,531.22 L382.50,531.21 L383.00,531.21 L383.50,531.20 L384.00,531.19 L384.50,531.18 L385.00,531.17 L385.50,531.16 L386.00,531.15 L386.50,531.13 L387.00,531.12 L387.50,531.10 L388.00,531.08 L388.50,531.06 L389.00,531.04 L389.50,531.02 L390.00,531.00 L390.50,530.97 L391.00,530.95 L391.50,530.92 L392.00,530.89 L392.50,530.86 L393.00,530.83 L393.50,530.80 L394.00,530.77 L394.50,530.74 L395.00,530.70 L395.50,530.67 L396.00,530.63 L396.50,530.59 L397.00,530.55 L397.50,530.51 L398.00,530.47 L398.50,530.43 L399.00,530.39 L399.50,530.34 L400.00,530.29 L400.50,530.24 L401.00,530.16 L401.50,530.07 L402.00,529.96 L402.50,529.83 L403.00,529.68 L403.50,529.51 L404.00,529.32 L404.50,529.12 L405.00,528.89 L405.50,528.61 L406.00,528.23 L406.50,527.75 L407.00,527.16 L407.50,526.45 L408.00,525.62 L408.50,524.17 L409.00,521.84 L409.50,518.95 L410.00,515.83 L410.50,512.80 L411.00,510.19 L411.50,507.97 L412.00,505.89 L412.50,503.90 L413.00,501.93 L413.50,499.94 L414.00,497.88 L414.50,495.69 L415.00,493.47 L415.50,491.28 L416.00,489.00 L416.50,486.53 L417.00,483.73 L417.40,481.20 L417.50,480.50 L418.00,476.31 L418.50,471.31 L419.00,465.93 L419.50,460.62 L420.00,455.46 L420.50,450.17 L421.00,444.66 L421.20,442.39 L421.50,439.11 L422.00,433.91 L422.50,427.94 L423.00,419.94 L423.50,406.28 L424.00,387.07 L424.20,378.79 L424.50,363.98 L425.00,336.23 L425.20,327.36 L425.50,315.18 L425.90,305.85 L426.00,306.08 L426.50,312.23 L427.00,320.34 L427.50,326.23 L428.00,331.80 L428.50,337.59 L428.80,341.38 L429.00,344.13 L429.50,351.68 L430.00,359.85 L430.50,368.18 L431.00,376.21 L431.50,383.47 L432.00,389.85 L432.50,395.71 L433.00,401.28 L433.50,406.79 L434.00,412.50 L434.50,418.64 L434.60,419.94 L435.00,425.37 L435.50,432.56 L436.00,440.06 L436.50,447.73 L437.00,455.41 L437.50,462.96 L438.00,470.75 L438.50,478.92 L439.00,487.01 L439.50,494.52 L440.00,500.99 L440.20,503.17 L440.50,506.19 L441.00,510.88 L441.50,515.05 L442.00,518.60 L442.50,521.41 L443.00,523.75 L443.50,525.82 L444.00,527.44 L444.50,528.42 L445.00,528.99 L445.50,529.49 L446.00,529.92 L446.50,530.27 L447.00,530.53 L447.50,530.70 L448.00,530.76 L448.50,530.78 L449.00,530.79 L449.50,530.80 L450.00,530.81 L450.50,530.82 L451.00,530.83 L451.50,530.85 L452.00,530.86 L452.50,530.87 L453.00,530.87 L453.50,530.88 L454.00,530.89 L454.50,530.90 L455.00,530.91 L455.50,530.91 L456.00,530.92 L456.50,530.93 L457.00,530.93 L457.50,530.94 L458.00,530.94 L458.50,530.95 L459.00,530.95 L459.50,530.96 L460.00,530.96 L460.50,530.97 L461.00,530.97 L461.50,530.97 L462.00,530.98 L462.50,530.98 L463.00,530.98 L463.50,530.98 L464.00,530.99 L464.50,530.99 L465.00,530.99 L465.50,530.99 L466.00,530.99 L466.50,530.99 L467.00,530.99 L467.50,530.99 L468.00,530.99 L468.50,531.00 L469.00,531.00 L469.50,531.00 L470.00,531.00 L470.50,531.00 L471.00,531.00 L471.50,531.00 L472.00,531.00 L472.50,531.00 L473.00,531.00 L473.50,531.00 L474.00,531.00 L474.50,531.00 L475.00,531.00 L475.50,531.00 L476.00,531.00 L476.50,531.00 L477.00,531.00 L477.50,531.00 L478.00,531.00 L478.50,531.00 L479.00,531.00 L479.50,531.00 L480.00,531.00 L480.50,531.00 L481.00,531.00 L481.50,531.00 L482.00,531.00 L482.50,531.00 L483.00,531.00 L483.50,531.00 L484.00,531.00 L484.50,531.00 L485.00,531.00 L485.50,531.00 L486.00,531.00 L486.50,531.00 L487.00,531.00 L487.50,531.00 L488.00,531.00 L488.50,531.00 L489.00,531.00 L489.50,531.00 L490.00,531.00 L490.50,531.00 L491.00,531.00 L491.50,531.00 L492.00,531.00 L492.50,531.00 L493.00,531.00 L493.50,531.00 L494.00,531.00 L494.50,531.00 L495.00,531.00 L495.50,531.00 L496.00,531.00 L496.50,531.00 L497.00,531.00 L497.50,531.00 L498.00,531.00 L498.50,531.00 L499.00,531.00 L499.50,531.00 L500.00,531.00 L500.50,531.00 L501.00,531.00 L501.50,531.00 L502.00,531.00 L502.50,531.00 L503.00,531.00 L503.50,531.00 L504.00,531.00 L504.50,531.00 L505.00,531.00 L505.50,531.00 L506.00,531.00 L506.50,531.00 L507.00,531.00 L507.50,531.00 L508.00,531.00 L508.50,531.00 L509.00,531.00 L509.50,531.00 L510.00,531.00 L510.50,531.00 L511.00,531.00 L511.50,531.00 L512.00,531.00 L512.50,531.00 L513.00,531.00 L513.50,531.00 L514.00,531.00 L514.50,531.00 L515.00,531.00 L515.50,531.00 L516.00,531.00 L516.50,531.00 L517.00,531.00 L517.50,531.00 L518.00,531.00 L518.50,531.00 L519.00,531.00 L519.50,531.00 L520.00,531.00 L520.50,531.00 L521.00,531.00 L521.50,531.00 L522.00,531.00 L522.50,531.00 L523.00,531.00 L523.50,531.00 L524.00,531.00 L524.50,531.00 L525.00,531.00 L525.50,531.00 L526.00,531.00 L526.50,531.00 L527.00,531.00 L527.50,531.00 L528.00,531.00 L528.50,531.00 L529.00,531.00 L529.50,531.00 L530.00,531.00 L530.50,531.00 L531.00,531.00 L531.50,531.00 L532.00,531.00 L532.50,531.00 L533.00,531.00 L533.50,531.00 L534.00,531.00 L534.50,531.00 L535.00,531.00 L535.50,531.00 L536.00,531.00 L536.50,531.00 L537.00,531.00 L537.50,531.00 L538.00,531.00 L538.50,531.00 L539.00,531.00 L539.50,531.00 L540.00,531.00 L540.50,531.00 L541.00,531.00 L541.50,531.00 L542.00,531.00 L542.50,531.00 L543.00,531.00 L543.50,531.00 L544.00,531.00 L544.50,531.00 L545.00,531.00 L545.50,531.00 L546.00,531.00 L546.50,531.00 L547.00,531.00 L547.50,531.00 L548.00,531.00 L548.50,531.00 L549.00,531.00 L549.50,531.00 L550.00,531.00 L550.50,531.00 L551.00,531.00 L551.50,531.00 L552.00,531.00 L552.50,531.00 L553.00,531.00 L553.50,530.94 L554.00,530.76 L554.50,530.46 L555.00,530.05 L555.50,529.53 L556.00,528.89 L556.50,526.98 L557.00,523.64 L557.40,520.94 L557.50,520.28 L558.00,516.17 L558.50,512.90 L558.70,512.53 L559.00,513.34 L559.50,517.02 L560.00,520.94 L560.50,524.34 L561.00,527.50 L561.40,528.89 L561.50,529.04 L562.00,529.72 L562.50,530.26 L563.00,530.66 L563.50,530.91 L564.00,531.00 L564.50,531.00 L565.00,531.00 L565.50,531.00 L566.00,531.00 L566.50,531.00 L567.00,531.00 L567.50,531.00 L568.00,531.00 L568.50,531.00 L569.00,531.00 L569.50,531.00 L570.00,531.00 L570.50,531.00 L571.00,531.00 L571.50,531.00 L572.00,531.00 L572.50,531.00 L573.00,531.00 L573.50,531.00 L574.00,531.00 L574.50,531.00 L575.00,531.00 L575.50,531.00 L576.00,531.00 L576.50,531.00 L577.00,531.00 L577.50,531.00 L578.00,531.00 L578.50,531.00 L579.00,531.00 L579.50,531.00 L580.00,531.00 L580.50,531.00 L581.00,531.00 L581.50,531.00 L582.00,531.00 L582.50,531.00 L583.00,531.00 L583.50,531.00 L584.00,531.00 L584.50,531.00 L585.00,531.00 L585.50,531.00 L586.00,531.00 L586.50,531.00 L587.00,531.00 L587.50,531.00 L588.00,531.00 L588.50,531.00 L589.00,531.00 L589.50,531.00 L590.00,531.00 L590.50,531.00 L591.00,531.00"/><path id="cvd" d="M88.50,798.42 L89.00,796.03 L89.50,789.04 L90.00,777.72 L90.20,772.04 L90.50,735.63 L91.00,628.57 L91.30,598.71 L91.50,612.91 L92.00,715.02 L92.40,772.04 L92.50,775.00 L93.00,787.20 L93.50,794.82 L94.00,797.47 L94.50,797.51 L95.00,797.55 L95.50,797.59 L96.00,797.62 L96.50,797.65 L97.00,797.68 L97.50,797.70 L98.00,797.73 L98.50,797.75 L99.00,797.77 L99.50,797.79 L100.00,797.81 L100.50,797.83 L101.00,797.84 L101.50,797.86 L102.00,797.87 L102.50,797.88 L103.00,797.89 L103.50,797.90 L104.00,797.91 L104.50,797.92 L105.00,797.92 L105.50,797.93 L106.00,797.93 L106.50,797.94 L107.00,797.94 L107.50,797.94 L108.00,797.94 L108.50,797.94 L109.00,797.94 L109.50,797.94 L110.00,797.94 L110.50,797.94 L111.00,797.94 L111.50,797.94 L112.00,797.94 L112.50,797.94 L113.00,797.94 L113.50,797.94 L114.00,797.94 L114.50,797.94 L115.00,797.94 L115.50,797.94 L116.00,797.94 L116.50,797.94 L117.00,797.94 L117.50,797.94 L118.00,797.94 L118.50,797.94 L119.00,797.94 L119.50,797.94 L120.00,797.94 L120.50,797.94 L121.00,797.94 L121.50,797.94 L122.00,797.94 L122.50,797.94 L123.00,797.94 L123.50,797.94 L124.00,797.94 L124.50,797.94 L125.00,797.94 L125.50,797.94 L126.00,797.94 L126.50,797.93 L127.00,797.93 L127.50,797.93 L128.00,797.93 L128.50,797.93 L129.00,797.93 L129.50,797.93 L130.00,797.93 L130.50,797.93 L131.00,797.93 L131.50,797.93 L132.00,797.92 L132.50,797.92 L133.00,797.92 L133.50,797.92 L134.00,797.92 L134.50,797.92 L135.00,797.92 L135.50,797.91 L136.00,797.91 L136.50,797.91 L137.00,797.91 L137.50,797.91 L138.00,797.91 L138.50,797.90 L139.00,797.90 L139.50,797.90 L140.00,797.90 L140.50,797.90 L141.00,797.89 L141.50,797.89 L142.00,797.89 L142.50,797.89 L143.00,797.88 L143.50,797.88 L144.00,797.88 L144.50,797.88 L145.00,797.87 L145.50,797.87 L146.00,797.87 L146.50,797.87 L147.00,797.86 L147.50,797.86 L148.00,797.86 L148.50,797.85 L149.00,797.85 L149.50,797.85 L150.00,797.84 L150.50,797.84 L151.00,797.84 L151.50,797.83 L152.00,797.83 L152.50,797.83 L153.00,797.82 L153.50,797.82 L154.00,797.81 L154.50,797.81 L155.00,797.81 L155.50,797.80 L156.00,797.80 L156.50,797.79 L157.00,797.79 L157.50,797.78 L158.00,797.78 L158.50,797.77 L159.00,797.77 L159.50,797.76 L160.00,797.76 L160.50,797.75 L161.00,797.75 L161.50,797.74 L162.00,797.74 L162.50,797.73 L163.00,797.73 L163.50,797.72 L164.00,797.72 L164.50,797.71 L165.00,797.70 L165.50,797.70 L166.00,797.69 L166.50,797.69 L167.00,797.68 L167.50,797.67 L168.00,797.67 L168.50,797.66 L169.00,797.65 L169.50,797.65 L170.00,797.64 L170.50,797.63 L171.00,797.62 L171.50,797.62 L172.00,797.61 L172.50,797.60 L173.00,797.59 L173.50,797.59 L174.00,797.58 L174.50,797.57 L175.00,797.56 L175.50,797.55 L176.00,797.55 L176.50,797.54 L177.00,797.53 L177.50,797.52 L178.00,797.51 L178.50,797.50 L179.00,797.49 L179.50,797.48 L180.00,797.47 L180.50,797.40 L181.00,797.20 L181.50,796.91 L182.00,796.53 L182.50,796.10 L183.00,795.63 L183.50,795.14 L184.00,794.65 L184.50,794.03 L185.00,793.19 L185.50,792.21 L186.00,791.19 L186.50,790.21 L187.00,789.35 L187.50,788.71 L188.00,788.37 L188.20,788.34 L188.50,788.43 L189.00,788.93 L189.50,789.76 L190.00,790.80 L190.50,791.93 L191.00,793.03 L191.50,793.97 L192.00,794.65 L192.50,795.15 L193.00,795.65 L193.50,796.13 L194.00,796.56 L194.50,796.93 L195.00,797.22 L195.50,797.41 L196.00,797.47 L196.50,797.47 L197.00,797.47 L197.50,797.47 L198.00,797.47 L198.50,797.47 L199.00,797.47 L199.50,797.47 L200.00,797.47 L200.50,797.47 L201.00,797.47 L201.50,797.47 L202.00,797.47 L202.50,797.47 L203.00,797.47 L203.50,797.47 L204.00,797.47 L204.50,797.47 L205.00,797.47 L205.50,797.47 L206.00,797.47 L206.50,797.47 L207.00,797.47 L207.50,797.47 L208.00,797.47 L208.50,797.47 L209.00,797.47 L209.50,797.47 L210.00,797.47 L210.50,797.47 L211.00,797.47 L211.50,797.47 L212.00,797.47 L212.50,797.47 L213.00,797.47 L213.50,797.47 L214.00,797.47 L214.50,797.47 L215.00,797.47 L215.50,797.47 L216.00,797.47 L216.50,797.47 L217.00,797.47 L217.50,797.47 L218.00,797.47 L218.50,797.47 L219.00,797.47 L219.50,797.47 L220.00,797.47 L220.50,797.47 L221.00,797.47 L221.50,797.47 L222.00,797.47 L222.50,797.47 L223.00,797.47 L223.50,797.47 L224.00,797.47 L224.50,797.47 L225.00,797.47 L225.50,797.47 L226.00,797.47 L226.50,797.47 L227.00,797.47 L227.50,797.47 L228.00,797.47 L228.50,797.47 L229.00,797.47 L229.50,797.47 L230.00,797.47 L230.50,797.47 L231.00,797.47 L231.50,797.47 L232.00,797.47 L232.50,797.47 L233.00,797.47 L233.50,797.47 L234.00,797.47 L234.50,797.47 L235.00,797.47 L235.50,797.47 L236.00,797.47 L236.50,797.47 L237.00,797.47 L237.50,797.47 L238.00,797.47 L238.50,797.47 L239.00,797.47 L239.50,797.47 L240.00,797.47 L240.50,797.47 L241.00,797.47 L241.50,797.47 L242.00,797.47 L242.50,797.47 L243.00,797.47 L243.50,797.47 L244.00,797.47 L244.50,797.47 L245.00,797.47 L245.50,797.47 L246.00,797.47 L246.50,797.47 L247.00,797.47 L247.50,797.47 L248.00,797.47 L248.50,797.47 L249.00,797.47 L249.50,797.47 L250.00,797.47 L250.50,797.47 L251.00,797.47 L251.50,797.47 L252.00,797.47 L252.50,797.47 L253.00,797.47 L253.50,797.47 L254.00,797.47 L254.50,797.47 L255.00,797.47 L255.50,797.47 L256.00,797.47 L256.50,797.47 L257.00,797.47 L257.50,797.47 L258.00,797.47 L258.50,797.47 L259.00,797.47 L259.50,797.47 L260.00,797.47 L260.50,797.47 L261.00,797.47 L261.50,797.47 L262.00,797.47 L262.50,797.47 L263.00,797.47 L263.50,797.47 L264.00,797.47 L264.50,797.47 L265.00,797.47 L265.50,797.47 L266.00,797.47 L266.50,797.47 L267.00,797.47 L267.50,797.47 L268.00,797.47 L268.50,797.47 L269.00,797.47 L269.50,797.47 L270.00,797.47 L270.50,797.47 L271.00,797.47 L271.50,797.47 L272.00,797.47 L272.50,797.47 L273.00,797.47 L273.50,797.47 L274.00,797.47 L274.50,797.47 L275.00,797.47 L275.50,797.47 L276.00,797.47 L276.50,797.47 L277.00,797.47 L277.50,797.47 L278.00,797.47 L278.50,797.47 L279.00,797.47 L279.50,797.47 L280.00,797.47 L280.50,797.47 L281.00,797.47 L281.50,797.47 L282.00,797.47 L282.50,797.47 L283.00,797.47 L283.50,797.47 L284.00,797.47 L284.50,797.47 L285.00,797.47 L285.50,797.47 L286.00,797.47 L286.50,797.47 L287.00,797.47 L287.50,797.47 L288.00,797.47 L288.50,797.47 L289.00,797.47 L289.50,797.47 L290.00,797.47 L290.50,797.47 L291.00,797.47 L291.50,797.47 L292.00,797.47 L292.50,797.47 L293.00,797.47 L293.50,797.47 L294.00,797.47 L294.50,797.47 L295.00,797.47 L295.50,797.47 L296.00,797.47 L296.50,797.47 L297.00,797.47 L297.50,797.47 L298.00,797.47 L298.50,797.47 L299.00,797.47 L299.50,797.47 L300.00,797.47 L300.50,797.47 L301.00,797.47 L301.50,797.47 L302.00,797.47 L302.50,797.47 L303.00,797.47 L303.50,797.47 L304.00,797.47 L304.50,797.47 L305.00,797.47 L305.50,797.47 L306.00,797.47 L306.50,797.47 L307.00,797.47 L307.50,797.47 L308.00,797.47 L308.50,797.47 L309.00,797.47 L309.50,797.47 L310.00,797.47 L310.50,797.47 L311.00,797.47 L311.50,797.47 L312.00,797.47 L312.50,797.47 L313.00,797.47 L313.50,797.47 L314.00,797.47 L314.50,797.47 L315.00,797.47 L315.50,797.47 L316.00,797.47 L316.50,797.46 L317.00,797.46 L317.50,797.46 L318.00,797.46 L318.50,797.46 L319.00,797.46 L319.50,797.46 L320.00,797.46 L320.50,797.46 L321.00,797.46 L321.50,797.46 L322.00,797.46 L322.50,797.46 L323.00,797.45 L323.50,797.45 L324.00,797.45 L324.50,797.45 L325.00,797.45 L325.50,797.45 L326.00,797.45 L326.50,797.45 L327.00,797.44 L327.50,797.44 L328.00,797.44 L328.50,797.44 L329.00,797.44 L329.50,797.44 L330.00,797.44 L330.50,797.43 L331.00,797.43 L331.50,797.43 L332.00,797.43 L332.50,797.43 L333.00,797.43 L333.50,797.42 L334.00,797.42 L334.50,797.42 L335.00,797.42 L335.50,797.42 L336.00,797.41 L336.50,797.41 L337.00,797.41 L337.50,797.41 L338.00,797.41 L338.50,797.40 L339.00,797.40 L339.50,797.40 L340.00,797.40 L340.50,797.39 L341.00,797.39 L341.50,797.39 L342.00,797.39 L342.50,797.38 L343.00,797.38 L343.50,797.38 L344.00,797.38 L344.50,797.37 L345.00,797.37 L345.50,797.37 L346.00,797.36 L346.50,797.36 L347.00,797.36 L347.50,797.35 L348.00,797.35 L348.50,797.35 L349.00,797.34 L349.50,797.34 L350.00,797.34 L350.50,797.33 L351.00,797.33 L351.50,797.33 L352.00,797.32 L352.50,797.32 L353.00,797.31 L353.50,797.31 L354.00,797.31 L354.50,797.30 L355.00,797.30 L355.50,797.29 L356.00,797.29 L356.50,797.29 L357.00,797.28 L357.50,797.28 L358.00,797.27 L358.50,797.27 L359.00,797.26 L359.50,797.26 L360.00,797.25 L360.50,797.25 L361.00,797.24 L361.50,797.24 L362.00,797.23 L362.50,797.23 L363.00,797.22 L363.50,797.22 L364.00,797.21 L364.50,797.21 L365.00,797.20 L365.50,797.20 L366.00,797.19 L366.50,797.19 L367.00,797.18 L367.50,797.17 L368.00,797.17 L368.50,797.16 L369.00,797.16 L369.50,797.15 L370.00,797.14 L370.50,797.14 L371.00,797.13 L371.50,797.13 L372.00,797.12 L372.50,797.11 L373.00,797.11 L373.50,797.10 L374.00,797.09 L374.50,797.08 L375.00,797.08 L375.50,797.07 L376.00,797.06 L376.50,797.06 L377.00,797.05 L377.50,797.04 L378.00,797.03 L378.50,797.03 L379.00,797.02 L379.50,797.01 L380.00,797.00 L380.50,796.97 L381.00,796.90 L381.50,796.78 L382.00,796.64 L382.50,796.46 L383.00,796.25 L383.50,796.02 L384.00,795.78 L384.50,795.52 L385.00,795.25 L385.50,794.98 L386.00,794.71 L386.50,794.44 L387.00,794.18 L387.50,793.94 L388.00,793.71 L388.50,793.47 L389.00,793.19 L389.50,792.89 L390.00,792.58 L390.50,792.27 L391.00,791.96 L391.50,791.68 L392.00,791.42 L392.50,791.20 L393.00,791.03 L393.50,790.92 L394.00,790.88 L394.50,790.94 L395.00,791.12 L395.50,791.37 L396.00,791.66 L396.50,791.98 L397.00,792.29 L397.50,792.56 L398.00,792.76 L398.50,792.92 L399.00,793.09 L399.50,793.25 L400.00,793.39 L400.50,793.52 L401.00,793.62 L401.50,793.68 L402.00,793.71 L402.50,793.51 L403.00,792.97 L403.50,792.15 L404.00,791.12 L404.50,789.94 L405.00,788.68 L405.50,787.40 L406.00,786.17 L406.50,784.92 L407.00,783.56 L407.50,782.08 L408.00,780.51 L408.50,778.85 L409.00,777.11 L409.50,775.31 L410.00,773.45 L410.50,771.38 L411.00,769.00 L411.50,766.43 L412.00,763.80 L412.50,761.22 L413.00,758.83 L413.50,756.74 L414.00,755.08 L414.50,753.66 L415.00,752.24 L415.50,750.87 L416.00,749.60 L416.50,748.50 L417.00,747.60 L417.50,746.96 L418.00,746.64 L418.20,746.61 L418.50,746.69 L419.00,747.15 L419.50,747.97 L420.00,749.08 L420.50,750.42 L421.00,751.90 L421.50,753.48 L422.00,755.08 L422.50,757.07 L423.00,759.69 L423.50,762.71 L424.00,765.87 L424.50,768.94 L425.00,771.67 L425.40,773.45 L425.50,773.84 L426.00,775.73 L426.50,777.54 L427.00,779.26 L427.50,780.87 L428.00,782.37 L428.50,783.76 L429.00,785.02 L429.50,786.14 L430.00,787.11 L430.50,787.99 L431.00,788.83 L431.50,789.63 L432.00,790.38 L432.50,791.09 L433.00,791.75 L433.50,792.36 L434.00,792.92 L434.50,793.44 L435.00,793.89 L435.50,794.30 L436.00,794.65 L436.50,794.97 L437.00,795.28 L437.50,795.58 L438.00,795.87 L438.50,796.15 L439.00,796.41 L439.50,796.66 L440.00,796.89 L440.50,797.11 L441.00,797.30 L441.50,797.47 L442.00,797.62 L442.50,797.74 L443.00,797.84 L443.50,797.91 L443.90,797.94 L444.00,797.95 L444.50,797.98 L445.00,798.01 L445.50,798.04 L446.00,798.06 L446.50,798.09 L447.00,798.11 L447.50,798.14 L448.00,798.16 L448.50,798.18 L449.00,798.20 L449.50,798.22 L450.00,798.24 L450.50,798.26 L451.00,798.27 L451.50,798.29 L452.00,798.30 L452.50,798.32 L453.00,798.33 L453.50,798.34 L454.00,798.35 L454.50,798.36 L455.00,798.37 L455.50,798.38 L456.00,798.39 L456.50,798.40 L457.00,798.40 L457.50,798.41 L458.00,798.41 L458.50,798.41 L459.00,798.41 L459.50,798.42 L460.00,798.42 L460.50,798.42 L461.00,798.42 L461.50,798.42 L462.00,798.42 L462.50,798.42 L463.00,798.42 L463.50,798.42 L464.00,798.42 L464.50,798.42 L465.00,798.42 L465.50,798.42 L466.00,798.42 L466.50,798.42 L467.00,798.42 L467.50,798.42 L468.00,798.42 L468.50,798.42 L469.00,798.42 L469.50,798.42 L470.00,798.42 L470.50,798.42 L471.00,798.42 L471.50,798.42 L472.00,798.42 L472.50,798.42 L473.00,798.42 L473.50,798.42 L474.00,798.42 L474.50,798.42 L475.00,798.42 L475.50,798.42 L476.00,798.42 L476.50,798.42 L477.00,798.42 L477.50,798.42 L478.00,798.42 L478.50,798.42 L479.00,798.42 L479.50,798.42 L480.00,798.42 L480.50,798.42 L481.00,798.42 L481.50,798.42 L482.00,798.42 L482.50,798.42 L483.00,798.42 L483.50,798.42 L484.00,798.42 L484.50,798.42 L485.00,798.42 L485.50,798.42 L486.00,798.42 L486.50,798.42 L487.00,798.42 L487.50,798.42 L488.00,798.42 L488.50,798.42 L489.00,798.42 L489.50,798.42 L490.00,798.42 L490.50,798.42 L491.00,798.42 L491.50,798.42 L492.00,798.42 L492.50,798.42 L493.00,798.42 L493.50,798.42 L494.00,798.42 L494.50,798.42 L495.00,798.42 L495.50,798.42 L496.00,798.42 L496.50,798.42 L497.00,798.42 L497.50,798.42 L498.00,798.42 L498.50,798.42 L499.00,798.42 L499.50,798.42 L500.00,798.42 L500.50,798.42 L501.00,798.42 L501.50,798.42 L502.00,798.42 L502.50,798.42 L503.00,798.42 L503.50,798.42 L504.00,798.42 L504.50,798.42 L505.00,798.42 L505.50,798.42 L506.00,798.42 L506.50,798.42 L507.00,798.42 L507.50,798.42 L508.00,798.42 L508.50,798.42 L509.00,798.42 L509.50,798.42 L510.00,798.42 L510.50,798.42 L511.00,798.42 L511.50,798.42 L512.00,798.42 L512.50,798.42 L513.00,798.42 L513.50,798.42 L514.00,798.42 L514.50,798.42 L515.00,798.42 L515.50,798.42 L516.00,798.42 L516.50,798.42 L517.00,798.42 L517.50,798.42 L518.00,798.42 L518.50,798.42 L519.00,798.42 L519.50,798.42 L520.00,798.42 L520.50,798.42 L521.00,798.42 L521.50,798.42 L522.00,798.42 L522.50,798.42 L523.00,798.42 L523.50,798.42 L524.00,798.42 L524.50,798.42 L525.00,798.42 L525.50,798.42 L526.00,798.42 L526.50,798.42 L527.00,798.42 L527.50,798.42 L528.00,798.42 L528.50,798.42 L529.00,798.42 L529.50,798.42 L530.00,798.42 L530.50,798.42 L531.00,798.42 L531.50,798.42 L532.00,798.42 L532.50,798.42 L533.00,798.42 L533.50,798.42 L534.00,798.42 L534.50,798.42 L535.00,798.42 L535.50,798.42 L536.00,798.42 L536.50,798.42 L537.00,798.42 L537.50,798.42 L538.00,798.42 L538.50,798.42 L539.00,798.42 L539.50,798.42 L540.00,798.42 L540.50,798.42 L541.00,798.42 L541.50,798.42 L542.00,798.42 L542.50,798.42 L543.00,798.42 L543.50,798.42 L544.00,798.42 L544.50,798.42 L545.00,798.42 L545.50,798.42 L546.00,798.42 L546.50,798.42 L547.00,798.42 L547.50,798.42 L548.00,798.42 L548.50,798.42 L549.00,798.42 L549.50,798.42 L550.00,798.42 L550.50,798.42 L551.00,798.42 L551.50,798.42 L552.00,798.42 L552.50,798.42 L553.00,798.42 L553.50,798.42 L554.00,798.42 L554.50,798.42 L555.00,798.42 L555.50,798.42 L556.00,798.42 L556.50,798.42 L557.00,798.42 L557.50,798.42 L558.00,798.42 L558.50,798.42 L559.00,798.42 L559.50,798.42 L560.00,798.42 L560.50,798.42 L561.00,798.42 L561.50,798.42 L562.00,798.42 L562.50,798.42 L563.00,798.42 L563.50,798.42 L564.00,798.42 L564.50,798.42 L565.00,798.42 L565.50,798.42 L566.00,798.42 L566.50,798.42 L567.00,798.42 L567.50,798.42 L568.00,798.42 L568.50,798.42 L569.00,798.42 L569.50,798.42 L570.00,798.42 L570.50,798.42 L571.00,798.42 L571.50,798.42 L572.00,798.42 L572.50,798.42 L573.00,798.42 L573.50,798.42 L574.00,798.42 L574.50,798.42 L575.00,798.42 L575.50,798.42 L576.00,798.42 L576.50,798.42 L577.00,798.42 L577.50,798.42 L578.00,798.42 L578.50,798.42 L579.00,798.42 L579.50,798.42 L580.00,798.42 L580.50,798.42 L581.00,798.42 L581.50,798.42 L582.00,798.42 L582.50,798.42 L583.00,798.42 L583.50,798.42 L584.00,798.42 L584.50,798.42 L585.00,798.42 L585.50,798.42 L586.00,798.42 L586.50,798.42 L587.00,798.42 L587.50,798.42 L588.00,798.42 L588.50,798.42 L589.00,798.42 L589.50,798.42 L590.00,798.42 L590.50,798.42 L591.00,798.42 L591.50,798.42 L592.00,798.42"/><path id="cvc" d="M95.20,1059.56 L95.70,1059.56 L96.20,1059.56 L96.70,1059.56 L97.20,1059.56 L97.70,1059.56 L98.20,1059.56 L98.70,1059.56 L99.20,1059.56 L99.70,1059.56 L100.20,1059.56 L100.70,1059.56 L101.20,1059.56 L101.70,1059.56 L102.20,1059.56 L102.70,1059.56 L103.20,1059.56 L103.70,1059.56 L104.20,1059.56 L104.70,1059.56 L105.20,1059.56 L105.70,1059.56 L106.20,1059.56 L106.70,1059.56 L107.20,1059.56 L107.70,1059.56 L108.20,1059.56 L108.70,1059.56 L109.20,1059.56 L109.70,1059.56 L110.20,1059.56 L110.70,1059.56 L111.20,1059.56 L111.70,1059.56 L112.20,1059.56 L112.70,1059.56 L113.20,1059.56 L113.70,1059.56 L114.20,1059.56 L114.70,1059.56 L115.20,1059.56 L115.70,1059.56 L116.20,1059.56 L116.70,1059.56 L117.20,1059.56 L117.70,1059.56 L118.20,1059.56 L118.70,1059.56 L119.20,1059.56 L119.70,1059.56 L120.20,1059.56 L120.70,1059.56 L121.20,1059.56 L121.70,1059.56 L122.20,1059.56 L122.70,1059.56 L123.20,1059.56 L123.70,1059.56 L124.20,1059.56 L124.70,1059.56 L125.20,1059.56 L125.70,1059.56 L126.20,1059.56 L126.70,1059.56 L127.20,1059.56 L127.70,1059.56 L128.20,1059.56 L128.70,1059.56 L129.20,1059.56 L129.70,1059.56 L130.20,1059.56 L130.70,1059.56 L131.20,1059.56 L131.70,1059.56 L132.20,1059.56 L132.70,1059.56 L133.20,1059.56 L133.70,1059.56 L134.20,1059.56 L134.70,1059.56 L135.20,1059.56 L135.70,1059.56 L136.20,1059.56 L136.70,1059.56 L137.20,1059.56 L137.70,1059.56 L138.20,1059.56 L138.70,1059.56 L139.20,1059.56 L139.70,1059.56 L140.20,1059.56 L140.70,1059.56 L141.20,1059.56 L141.70,1059.56 L142.20,1059.56 L142.70,1059.56 L143.20,1059.56 L143.70,1059.56 L144.20,1059.56 L144.70,1059.56 L145.20,1059.56 L145.70,1059.56 L146.20,1059.56 L146.70,1059.56 L147.20,1059.56 L147.70,1059.56 L148.20,1059.56 L148.70,1059.56 L149.20,1059.56 L149.70,1059.56 L150.00,1059.56 L150.20,1059.56 L150.70,1059.56 L151.20,1059.56 L151.70,1059.56 L152.20,1059.56 L152.70,1059.55 L153.20,1059.55 L153.70,1059.55 L154.20,1059.55 L154.70,1059.54 L155.20,1059.54 L155.70,1059.54 L156.20,1059.53 L156.70,1059.53 L157.20,1059.52 L157.70,1059.52 L158.20,1059.51 L158.70,1059.51 L159.20,1059.50 L159.70,1059.49 L160.20,1059.49 L160.70,1059.48 L161.20,1059.47 L161.70,1059.46 L162.20,1059.45 L162.70,1059.45 L163.20,1059.44 L163.70,1059.43 L164.20,1059.42 L164.70,1059.41 L165.20,1059.40 L165.70,1059.39 L166.20,1059.38 L166.70,1059.37 L167.20,1059.35 L167.70,1059.34 L168.20,1059.33 L168.70,1059.32 L169.20,1059.30 L169.70,1059.29 L170.20,1059.28 L170.70,1059.27 L171.20,1059.25 L171.70,1059.24 L172.20,1059.22 L172.70,1059.21 L173.20,1059.19 L173.70,1059.18 L174.20,1059.16 L174.70,1059.15 L175.20,1059.13 L175.70,1059.11 L176.20,1059.10 L176.70,1059.08 L177.20,1059.06 L177.70,1059.05 L178.20,1059.03 L178.70,1059.01 L179.20,1058.99 L179.70,1058.97 L180.20,1058.95 L180.70,1058.93 L181.20,1058.92 L181.70,1058.90 L182.20,1058.88 L182.70,1058.86 L183.20,1058.84 L183.70,1058.81 L184.20,1058.79 L184.70,1058.77 L185.20,1058.75 L185.70,1058.73 L186.20,1058.71 L186.70,1058.69 L187.20,1058.66 L187.70,1058.64 L188.20,1058.62 L188.70,1058.60 L189.20,1058.57 L189.70,1058.55 L190.20,1058.53 L190.70,1058.50 L191.20,1058.48 L191.70,1058.45 L192.20,1058.43 L192.70,1058.40 L193.20,1058.38 L193.70,1058.35 L194.20,1058.33 L194.70,1058.30 L195.20,1058.28 L195.70,1058.25 L196.20,1058.23 L196.70,1058.20 L197.20,1058.17 L197.70,1058.15 L198.20,1058.12 L198.70,1058.09 L199.20,1058.06 L199.70,1058.04 L200.00,1058.02 L200.20,1058.01 L200.70,1057.97 L201.20,1057.93 L201.70,1057.89 L202.20,1057.83 L202.70,1057.78 L203.20,1057.71 L203.70,1057.64 L204.20,1057.57 L204.70,1057.49 L205.20,1057.41 L205.70,1057.32 L206.20,1057.23 L206.70,1057.14 L207.20,1057.04 L207.70,1056.94 L208.20,1056.84 L208.70,1056.74 L209.20,1056.64 L209.70,1056.53 L210.20,1056.42 L210.70,1056.31 L211.20,1056.21 L211.70,1056.10 L212.20,1055.99 L212.70,1055.88 L213.20,1055.77 L213.70,1055.66 L214.20,1055.56 L214.70,1055.45 L215.20,1055.35 L215.70,1055.25 L216.20,1055.15 L216.70,1055.06 L217.20,1054.97 L217.70,1054.88 L218.20,1054.79 L218.70,1054.71 L219.20,1054.64 L219.70,1054.57 L220.20,1054.50 L220.70,1054.44 L221.20,1054.38 L221.70,1054.33 L222.20,1054.29 L222.70,1054.25 L223.20,1054.22 L223.70,1054.20 L224.20,1054.18 L224.70,1054.17 L225.00,1054.17 L225.20,1054.17 L225.70,1054.19 L226.20,1054.22 L226.70,1054.26 L227.20,1054.32 L227.70,1054.39 L228.20,1054.47 L228.70,1054.56 L229.20,1054.65 L229.70,1054.75 L230.20,1054.85 L230.70,1054.96 L231.20,1055.06 L231.70,1055.17 L232.20,1055.27 L232.70,1055.36 L233.20,1055.45 L233.70,1055.54 L234.20,1055.61 L234.70,1055.68 L235.00,1055.71 L235.20,1055.73 L235.70,1055.78 L236.20,1055.84 L236.70,1055.89 L237.20,1055.94 L237.70,1056.00 L238.20,1056.05 L238.70,1056.10 L239.20,1056.15 L239.70,1056.20 L240.20,1056.24 L240.70,1056.28 L241.20,1056.32 L241.70,1056.36 L242.20,1056.39 L242.70,1056.42 L243.20,1056.44 L243.70,1056.46 L244.20,1056.47 L244.70,1056.48 L245.00,1056.48 L245.20,1056.47 L245.70,1056.33 L246.20,1056.07 L246.70,1055.69 L247.20,1055.22 L247.70,1054.68 L248.20,1054.09 L248.70,1053.47 L249.20,1052.84 L249.70,1052.22 L250.00,1051.86 L250.20,1051.61 L250.70,1050.86 L251.20,1049.96 L251.70,1048.95 L252.20,1047.87 L252.70,1046.77 L253.20,1045.67 L253.70,1044.63 L254.20,1043.67 L254.70,1042.85 L255.20,1042.19 L255.70,1041.74 L256.20,1041.55 L256.30,1041.54 L256.70,1041.66 L257.20,1042.11 L257.70,1042.84 L258.20,1043.79 L258.70,1044.90 L259.20,1046.11 L259.70,1047.35 L260.20,1048.57 L260.70,1049.71 L261.20,1050.71 L261.70,1051.51 L262.00,1051.86 L262.20,1052.06 L262.70,1052.56 L263.20,1053.05 L263.70,1053.53 L264.20,1054.00 L264.70,1054.45 L265.20,1054.87 L265.70,1055.27 L266.20,1055.65 L266.70,1055.99 L267.20,1056.30 L267.70,1056.57 L268.20,1056.81 L268.70,1056.99 L269.20,1057.13 L269.70,1057.22 L270.00,1057.25 L270.20,1057.26 L270.70,1057.29 L271.20,1057.32 L271.70,1057.35 L272.20,1057.38 L272.70,1057.40 L273.20,1057.43 L273.70,1057.45 L274.20,1057.48 L274.70,1057.50 L275.20,1057.53 L275.70,1057.55 L276.20,1057.57 L276.70,1057.59 L277.20,1057.61 L277.70,1057.63 L278.20,1057.65 L278.70,1057.67 L279.20,1057.69 L279.70,1057.71 L280.20,1057.72 L280.70,1057.74 L281.20,1057.76 L281.70,1057.77 L282.20,1057.79 L282.70,1057.80 L283.20,1057.82 L283.70,1057.83 L284.20,1057.84 L284.70,1057.85 L285.20,1057.87 L285.70,1057.88 L286.20,1057.89 L286.70,1057.90 L287.20,1057.91 L287.70,1057.92 L288.20,1057.93 L288.70,1057.93 L289.20,1057.94 L289.70,1057.95 L290.20,1057.96 L290.70,1057.96 L291.20,1057.97 L291.70,1057.98 L292.20,1057.98 L292.70,1057.99 L293.20,1057.99 L293.70,1058.00 L294.20,1058.00 L294.70,1058.00 L295.20,1058.01 L295.70,1058.01 L296.20,1058.01 L296.70,1058.01 L297.20,1058.02 L297.70,1058.02 L298.20,1058.02 L298.70,1058.02 L299.20,1058.02 L299.70,1058.02 L300.00,1058.02 L300.20,1058.02 L300.70,1058.00 L301.20,1057.97 L301.70,1057.92 L302.20,1057.86 L302.70,1057.78 L303.20,1057.70 L303.70,1057.60 L304.20,1057.49 L304.70,1057.38 L305.20,1057.25 L305.70,1057.12 L306.20,1056.99 L306.70,1056.85 L307.20,1056.71 L307.70,1056.57 L308.00,1056.48 L308.20,1056.42 L308.70,1056.27 L309.20,1056.10 L309.70,1055.92 L310.20,1055.72 L310.70,1055.50 L311.20,1055.26 L311.70,1054.99 L312.20,1054.70 L312.70,1054.38 L313.20,1054.03 L313.70,1053.65 L314.00,1053.40 L314.20,1053.22 L314.70,1052.64 L315.20,1051.89 L315.70,1051.00 L316.20,1049.97 L316.70,1048.83 L317.20,1047.59 L317.70,1046.27 L318.20,1044.87 L318.70,1043.43 L319.20,1041.95 L319.70,1040.44 L320.00,1039.54 L320.20,1038.92 L320.70,1037.27 L321.20,1035.45 L321.70,1033.50 L322.20,1031.44 L322.70,1029.27 L323.20,1027.01 L323.70,1024.69 L324.20,1022.32 L324.70,1019.92 L325.10,1017.98 L325.20,1017.49 L325.70,1014.88 L326.20,1012.06 L326.70,1009.09 L327.20,1006.03 L327.70,1002.95 L328.20,999.91 L328.70,996.97 L329.20,994.19 L329.70,991.65 L330.00,990.26 L330.20,989.36 L330.70,987.02 L331.20,984.61 L331.70,982.17 L332.20,979.76 L332.70,977.42 L333.20,975.23 L333.70,973.22 L334.20,971.46 L334.70,970.00 L335.20,968.88 L335.70,968.18 L336.20,967.93 L336.70,968.29 L337.20,969.29 L337.70,970.78 L338.20,972.62 L338.70,974.67 L339.20,976.79 L339.70,978.85 L340.20,980.69 L340.30,981.02 L340.70,982.34 L341.20,984.05 L341.70,985.80 L342.20,987.57 L342.70,989.32 L343.20,991.03 L343.70,992.67 L344.20,994.22 L344.70,995.64 L345.00,996.42 L345.20,996.91 L345.70,998.03 L346.20,999.05 L346.70,999.98 L347.20,1000.86 L347.70,1001.72 L348.20,1002.60 L348.70,1003.52 L349.20,1004.53 L349.70,1005.64 L350.20,1006.89 L350.70,1008.37 L351.20,1010.09 L351.70,1012.02 L352.20,1014.11 L352.70,1016.31 L353.20,1018.58 L353.70,1020.86 L354.20,1023.12 L354.70,1025.30 L355.20,1027.36 L355.70,1029.26 L356.00,1030.30 L356.20,1030.96 L356.70,1032.61 L357.20,1034.24 L357.70,1035.84 L358.20,1037.40 L358.70,1038.92 L359.20,1040.39 L359.70,1041.79 L360.20,1043.13 L360.70,1044.38 L361.20,1045.56 L361.70,1046.64 L362.00,1047.24 L362.20,1047.63 L362.70,1048.61 L363.20,1049.58 L363.70,1050.53 L364.20,1051.45 L364.70,1052.32 L365.20,1053.12 L365.70,1053.85 L366.20,1054.49 L366.70,1055.02 L367.20,1055.43 L367.70,1055.71 L368.20,1055.91 L368.70,1056.11 L369.20,1056.29 L369.70,1056.47 L370.20,1056.64 L370.70,1056.80 L371.20,1056.96 L371.70,1057.11 L372.20,1057.25 L372.70,1057.38 L373.20,1057.50 L373.70,1057.62 L374.20,1057.72 L374.70,1057.82 L375.20,1057.91 L375.70,1057.99 L376.20,1058.07 L376.70,1058.13 L377.20,1058.18 L377.70,1058.23 L378.20,1058.27 L378.70,1058.30 L379.20,1058.32 L379.70,1058.33 L380.00,1058.33 L380.20,1058.33 L380.70,1058.32 L381.20,1058.31 L381.70,1058.30 L382.20,1058.28 L382.70,1058.26 L383.20,1058.23 L383.70,1058.20 L384.20,1058.17 L384.70,1058.13 L385.20,1058.08 L385.70,1058.03 L386.20,1057.98 L386.70,1057.93 L387.20,1057.87 L387.70,1057.80 L388.20,1057.74 L388.70,1057.66 L389.20,1057.59 L389.70,1057.51 L390.20,1057.43 L390.70,1057.34 L391.20,1057.26 L391.70,1057.16 L392.20,1057.07 L392.70,1056.97 L393.20,1056.87 L393.70,1056.76 L394.20,1056.66 L394.70,1056.55 L395.00,1056.48 L395.20,1056.43 L395.70,1056.30 L396.20,1056.13 L396.70,1055.94 L397.20,1055.72 L397.70,1055.47 L398.20,1055.18 L398.70,1054.87 L399.20,1054.51 L399.70,1054.13 L400.20,1053.70 L400.70,1053.24 L401.20,1052.74 L401.70,1052.20 L402.00,1051.86 L402.20,1051.60 L402.70,1050.70 L403.20,1049.48 L403.70,1048.00 L404.20,1046.29 L404.70,1044.40 L405.20,1042.36 L405.50,1041.08 L405.70,1040.20 L406.20,1037.76 L406.70,1034.94 L407.20,1031.64 L407.70,1027.80 L408.20,1023.32 L408.50,1020.29 L408.70,1017.93 L409.20,1010.09 L409.70,1000.03 L410.20,988.48 L410.70,976.16 L411.00,968.70 L411.20,963.50 L411.70,948.63 L412.20,932.20 L412.70,915.52 L413.20,899.96 L413.50,891.70 L413.70,886.50 L414.20,873.69 L414.70,862.71 L415.00,857.82 L415.20,855.08 L415.70,848.55 L416.20,843.81 L416.60,842.42 L416.70,842.53 L417.20,845.92 L417.70,852.36 L418.20,859.57 L418.30,860.90 L418.70,866.68 L419.20,875.02 L419.70,883.69 L420.20,891.70 L420.70,898.49 L421.20,904.62 L421.70,910.78 L422.20,917.70 L422.50,922.50 L422.70,926.14 L423.20,936.94 L423.70,949.27 L424.20,962.05 L424.70,974.15 L424.80,976.40 L425.20,985.68 L425.70,997.72 L426.20,1008.90 L426.70,1017.74 L426.90,1020.29 L427.20,1023.50 L427.70,1028.34 L428.20,1032.56 L428.70,1036.16 L429.20,1039.14 L429.70,1041.50 L430.00,1042.62 L430.20,1043.28 L430.70,1044.84 L431.20,1046.28 L431.70,1047.59 L432.20,1048.78 L432.70,1049.86 L433.20,1050.83 L433.70,1051.69 L434.20,1052.44 L434.70,1053.09 L435.20,1053.64 L435.60,1054.02 L435.70,1054.10 L436.20,1054.52 L436.70,1054.92 L437.20,1055.30 L437.70,1055.67 L438.20,1056.02 L438.70,1056.36 L439.20,1056.67 L439.70,1056.96 L440.20,1057.24 L440.70,1057.49 L441.20,1057.73 L441.70,1057.94 L442.20,1058.14 L442.70,1058.31 L443.20,1058.45 L443.70,1058.58 L444.20,1058.68 L444.70,1058.76 L445.00,1058.79 L445.20,1058.81 L445.70,1058.86 L446.20,1058.91 L446.70,1058.95 L447.20,1058.99 L447.70,1059.04 L448.20,1059.08 L448.70,1059.12 L449.20,1059.15 L449.70,1059.19 L450.20,1059.22 L450.70,1059.26 L451.20,1059.29 L451.70,1059.32 L452.20,1059.35 L452.70,1059.37 L453.20,1059.40 L453.70,1059.42 L454.20,1059.44 L454.70,1059.46 L455.20,1059.48 L455.70,1059.49 L456.20,1059.51 L456.70,1059.52 L457.20,1059.53 L457.70,1059.54 L458.20,1059.55 L458.70,1059.55 L459.20,1059.56 L459.70,1059.56 L460.00,1059.56 L460.20,1059.56 L460.70,1059.56 L461.20,1059.56 L461.70,1059.56 L462.20,1059.56 L462.70,1059.56 L463.20,1059.56 L463.70,1059.56 L464.20,1059.56 L464.70,1059.56 L465.20,1059.56 L465.70,1059.56 L466.20,1059.56 L466.70,1059.56 L467.20,1059.56 L467.70,1059.56 L468.20,1059.56 L468.70,1059.56 L469.20,1059.56 L469.70,1059.56 L470.20,1059.56 L470.70,1059.56 L471.20,1059.56 L471.70,1059.56 L472.20,1059.56 L472.70,1059.56 L473.20,1059.56 L473.70,1059.56 L474.20,1059.56 L474.70,1059.56 L475.20,1059.56 L475.70,1059.56 L476.20,1059.56 L476.70,1059.56 L477.20,1059.56 L477.70,1059.56 L478.20,1059.56 L478.70,1059.56 L479.20,1059.56 L479.70,1059.56 L480.20,1059.56 L480.70,1059.56 L481.20,1059.56 L481.70,1059.56 L482.20,1059.56 L482.70,1059.56 L483.20,1059.56 L483.70,1059.56 L484.20,1059.56 L484.70,1059.56 L485.20,1059.56 L485.70,1059.56 L486.20,1059.56 L486.70,1059.56 L487.20,1059.56 L487.70,1059.56 L488.20,1059.56 L488.70,1059.56 L489.20,1059.56 L489.70,1059.56 L490.20,1059.56 L490.70,1059.56 L491.20,1059.56 L491.70,1059.56 L492.20,1059.56 L492.70,1059.56 L493.20,1059.56 L493.70,1059.56 L494.20,1059.56 L494.70,1059.56 L495.20,1059.56 L495.70,1059.56 L496.20,1059.56 L496.70,1059.56 L497.20,1059.56 L497.70,1059.56 L498.20,1059.56 L498.70,1059.56 L499.20,1059.56 L499.70,1059.56 L500.20,1059.56 L500.70,1059.56 L501.20,1059.56 L501.70,1059.56 L502.20,1059.56 L502.70,1059.56 L503.20,1059.56 L503.70,1059.56 L504.20,1059.56 L504.70,1059.56 L505.20,1059.56 L505.70,1059.56 L506.20,1059.56 L506.70,1059.56 L507.20,1059.56 L507.70,1059.56 L508.20,1059.56 L508.70,1059.56 L509.20,1059.56 L509.70,1059.56 L510.20,1059.56 L510.70,1059.56 L511.20,1059.56 L511.70,1059.56 L512.20,1059.56 L512.70,1059.56 L513.20,1059.56 L513.70,1059.56 L514.20,1059.56 L514.70,1059.56 L515.20,1059.56 L515.70,1059.56 L516.20,1059.56 L516.70,1059.56 L517.20,1059.56 L517.70,1059.56 L518.20,1059.56 L518.70,1059.56 L519.20,1059.56 L519.70,1059.56 L520.20,1059.56 L520.70,1059.56 L521.20,1059.56 L521.70,1059.56 L522.20,1059.56 L522.70,1059.56 L523.20,1059.56 L523.70,1059.56 L524.20,1059.56 L524.70,1059.56 L525.20,1059.56 L525.70,1059.56 L526.20,1059.56 L526.70,1059.56 L527.20,1059.56 L527.70,1059.56 L528.20,1059.56 L528.70,1059.56 L529.20,1059.56 L529.70,1059.56 L530.20,1059.56 L530.70,1059.56 L531.20,1059.56 L531.70,1059.56 L532.20,1059.56 L532.70,1059.56 L533.20,1059.56 L533.70,1059.56 L534.20,1059.56 L534.70,1059.56 L535.20,1059.56 L535.70,1059.56 L536.20,1059.56 L536.70,1059.56 L537.20,1059.56 L537.70,1059.56 L538.20,1059.56 L538.70,1059.56 L539.20,1059.56 L539.70,1059.56 L540.20,1059.56 L540.70,1059.56 L541.20,1059.56 L541.70,1059.56 L542.20,1059.56 L542.70,1059.56 L543.20,1059.56 L543.70,1059.56 L544.20,1059.56 L544.70,1059.56 L545.20,1059.56 L545.70,1059.56 L546.20,1059.56 L546.70,1059.56 L547.20,1059.56 L547.70,1059.56 L548.20,1059.56 L548.70,1059.56 L549.20,1059.56 L549.70,1059.56 L550.20,1059.56 L550.70,1059.56 L551.20,1059.56 L551.70,1059.56 L552.20,1059.56 L552.70,1059.56 L553.20,1059.56 L553.70,1059.56 L554.20,1059.56 L554.70,1059.56 L555.20,1059.56 L555.70,1059.56 L556.20,1059.56 L556.70,1059.56 L557.20,1059.56 L557.70,1059.56 L558.20,1059.56 L558.70,1059.56 L559.20,1059.56 L559.70,1059.56 L560.20,1059.56 L560.70,1059.56 L561.20,1059.56 L561.70,1059.56 L562.20,1059.56 L562.70,1059.56 L563.20,1059.56 L563.70,1059.56 L564.20,1059.56 L564.70,1059.56 L565.20,1059.56 L565.70,1059.56 L566.20,1059.56 L566.70,1059.56 L567.20,1059.56 L567.70,1059.56 L568.20,1059.56 L568.70,1059.56 L569.20,1059.56 L569.70,1059.56 L570.20,1059.56 L570.70,1059.56 L571.20,1059.56 L571.70,1059.56 L572.20,1059.56 L572.70,1059.56 L573.20,1059.56 L573.70,1059.56 L574.20,1059.56 L574.70,1059.56 L575.20,1059.56 L575.70,1059.56 L576.20,1059.56 L576.70,1059.56 L577.20,1059.56 L577.70,1059.56 L578.20,1059.56 L578.70,1059.56 L579.20,1059.56 L579.70,1059.56 L580.20,1059.56 L580.70,1059.56 L581.20,1059.56 L581.70,1059.56 L582.20,1059.56 L582.70,1059.56 L583.20,1059.56 L583.70,1059.56 L584.20,1059.56 L584.70,1059.56 L585.20,1059.56 L585.70,1059.56 L586.20,1059.56 L586.70,1059.56 L587.00,1059.56"/><path id="cvb" d="M89.50,1318.41 L90.00,1318.41 L90.50,1318.41 L91.00,1318.41 L91.50,1318.41 L92.00,1318.41 L92.50,1318.41 L93.00,1318.41 L93.50,1318.41 L94.00,1318.41 L94.50,1318.41 L95.00,1318.41 L95.50,1318.41 L96.00,1318.41 L96.50,1318.41 L97.00,1318.41 L97.50,1318.41 L98.00,1318.41 L98.50,1318.41 L99.00,1318.41 L99.50,1318.41 L100.00,1318.41 L100.50,1318.41 L101.00,1318.41 L101.50,1318.41 L102.00,1318.41 L102.50,1318.41 L103.00,1318.41 L103.50,1318.41 L104.00,1318.41 L104.50,1318.41 L105.00,1318.41 L105.50,1318.41 L106.00,1318.41 L106.50,1318.41 L107.00,1318.41 L107.50,1318.41 L108.00,1318.41 L108.50,1318.41 L109.00,1318.41 L109.50,1318.41 L110.00,1318.41 L110.50,1318.36 L111.00,1318.19 L111.50,1317.93 L112.00,1317.56 L112.50,1317.10 L113.00,1316.55 L113.50,1315.91 L113.90,1315.34 L114.00,1315.16 L114.50,1313.54 L115.00,1310.90 L115.50,1307.56 L116.00,1303.82 L116.50,1299.89 L117.00,1294.71 L117.50,1286.70 L117.60,1284.62 L118.00,1265.85 L118.50,1225.10 L119.00,1154.18 L119.10,1149.84 L119.50,1188.25 L119.80,1225.10 L120.00,1239.56 L120.50,1270.25 L120.90,1284.62 L121.00,1286.59 L121.50,1294.49 L122.00,1299.90 L122.50,1303.82 L123.00,1307.21 L123.50,1310.22 L124.00,1312.70 L124.50,1314.49 L124.90,1315.34 L125.00,1315.48 L125.50,1316.12 L126.00,1316.70 L126.50,1317.20 L127.00,1317.62 L127.50,1317.96 L128.00,1318.21 L128.50,1318.36 L129.00,1318.41 L129.50,1318.41 L130.00,1318.41 L130.50,1318.41 L131.00,1318.41 L131.50,1318.41 L132.00,1318.41 L132.50,1318.41 L133.00,1318.41 L133.50,1318.41 L134.00,1318.41 L134.50,1318.41 L135.00,1318.41 L135.50,1318.41 L136.00,1318.41 L136.50,1318.41 L137.00,1318.41 L137.50,1318.41 L138.00,1318.41 L138.50,1318.41 L139.00,1318.41 L139.50,1318.41 L140.00,1318.41 L140.50,1318.41 L141.00,1318.41 L141.50,1318.41 L142.00,1318.41 L142.50,1318.41 L143.00,1318.41 L143.50,1318.41 L144.00,1318.41 L144.50,1318.41 L145.00,1318.41 L145.50,1318.41 L146.00,1318.41 L146.50,1318.41 L147.00,1318.41 L147.50,1318.41 L148.00,1318.41 L148.50,1318.41 L149.00,1318.41 L149.50,1318.41 L150.00,1318.41 L150.50,1318.41 L151.00,1318.41 L151.50,1318.41 L152.00,1318.41 L152.50,1318.41 L153.00,1318.41 L153.50,1318.41 L154.00,1318.41 L154.50,1318.41 L155.00,1318.41 L155.50,1318.41 L156.00,1318.41 L156.50,1318.41 L157.00,1318.41 L157.50,1318.41 L158.00,1318.41 L158.50,1318.41 L159.00,1318.41 L159.50,1318.41 L160.00,1318.41 L160.50,1318.40 L161.00,1318.37 L161.50,1318.32 L162.00,1318.26 L162.50,1318.17 L163.00,1318.08 L163.50,1317.96 L164.00,1317.84 L164.50,1317.71 L165.00,1317.57 L165.50,1317.42 L166.00,1317.26 L166.50,1317.08 L167.00,1316.87 L167.50,1316.61 L168.00,1316.31 L168.50,1315.94 L169.00,1315.50 L169.50,1314.99 L170.00,1314.40 L170.50,1313.72 L170.70,1313.42 L171.00,1312.71 L171.50,1310.52 L172.00,1307.34 L172.50,1303.45 L173.00,1299.13 L173.50,1294.68 L174.00,1290.38 L174.50,1286.18 L175.00,1281.80 L175.50,1277.14 L176.00,1272.12 L176.50,1266.66 L177.00,1260.68 L177.20,1258.12 L177.50,1253.96 L178.00,1246.01 L178.50,1237.06 L179.00,1227.43 L179.50,1217.42 L180.00,1205.93 L180.50,1193.50 L181.00,1182.86 L181.50,1173.36 L182.00,1164.97 L182.50,1161.36 L183.00,1166.02 L183.50,1176.99 L184.00,1189.77 L184.20,1194.38 L184.50,1201.89 L185.00,1217.38 L185.50,1232.94 L186.00,1244.38 L186.40,1247.76 L186.50,1247.63 L187.00,1243.87 L187.50,1236.40 L188.00,1227.36 L188.50,1218.87 L188.60,1217.42 L189.00,1211.60 L189.50,1203.93 L190.00,1196.48 L190.50,1189.92 L190.80,1186.70 L191.00,1184.74 L191.50,1179.71 L192.00,1175.16 L192.50,1171.85 L193.00,1170.57 L193.50,1174.52 L194.00,1184.33 L194.50,1196.96 L195.00,1209.36 L195.20,1213.58 L195.50,1219.65 L196.00,1230.48 L196.50,1241.59 L197.00,1252.23 L197.50,1261.70 L198.00,1269.24 L198.20,1271.56 L198.50,1274.60 L199.00,1279.25 L199.50,1283.37 L200.00,1286.99 L200.50,1290.12 L201.00,1292.78 L201.50,1294.99 L202.00,1296.90 L202.50,1298.64 L203.00,1300.22 L203.50,1301.61 L204.00,1302.81 L204.50,1303.80 L205.00,1304.59 L205.50,1305.26 L206.00,1305.90 L206.50,1306.50 L207.00,1307.05 L207.50,1307.53 L208.00,1307.92 L208.50,1308.21 L209.00,1308.38 L209.40,1308.43 L209.50,1308.43 L210.00,1308.36 L210.50,1308.20 L211.00,1307.96 L211.50,1307.65 L212.00,1307.28 L212.50,1306.49 L213.00,1305.03 L213.50,1303.04 L214.00,1300.67 L214.50,1298.06 L215.00,1294.46 L215.50,1289.42 L216.00,1283.56 L216.50,1277.51 L217.00,1271.89 L217.50,1267.34 L218.00,1263.35 L218.50,1259.23 L219.00,1255.34 L219.50,1252.03 L220.00,1249.65 L220.50,1248.56 L220.60,1248.52 L221.00,1248.70 L221.50,1249.33 L222.00,1250.28 L222.50,1251.39 L223.00,1252.52 L223.50,1253.52 L224.00,1254.32 L224.50,1255.02 L225.00,1255.74 L225.50,1256.55 L226.00,1257.57 L226.50,1258.89 L227.00,1261.41 L227.50,1265.58 L228.00,1270.78 L228.50,1276.41 L229.00,1281.87 L229.50,1286.54 L230.00,1290.78 L230.50,1295.10 L231.00,1299.14 L231.50,1302.55 L232.00,1304.97 L232.50,1306.75 L233.00,1308.37 L233.50,1309.67 L234.00,1310.51 L234.40,1310.73 L234.50,1310.73 L235.00,1310.68 L235.50,1310.57 L236.00,1310.41 L236.50,1310.20 L237.00,1309.95 L237.50,1309.66 L238.00,1309.36 L238.50,1309.04 L239.00,1308.70 L239.50,1308.37 L240.00,1308.04 L240.50,1307.71 L241.00,1307.35 L241.50,1306.97 L242.00,1306.56 L242.50,1306.12 L243.00,1305.65 L243.50,1305.15 L244.00,1304.61 L244.50,1304.05 L245.00,1303.45 L245.50,1302.82 L245.90,1302.28 L246.00,1302.15 L246.50,1301.38 L247.00,1300.51 L247.50,1299.53 L248.00,1298.48 L248.50,1297.35 L249.00,1296.16 L249.50,1294.92 L250.00,1293.65 L250.50,1292.36 L251.00,1291.05 L251.50,1289.75 L252.00,1288.46 L252.50,1287.21 L253.00,1285.99 L253.50,1284.78 L254.00,1283.57 L254.50,1282.33 L255.00,1281.04 L255.50,1279.69 L256.00,1278.26 L256.50,1276.72 L257.00,1275.06 L257.50,1273.26 L258.00,1271.29 L258.30,1270.03 L258.50,1269.11 L259.00,1266.40 L259.50,1263.17 L260.00,1259.51 L260.50,1255.50 L261.00,1251.22 L261.50,1246.77 L262.00,1242.23 L262.50,1237.69 L263.00,1233.23 L263.50,1228.94 L264.00,1224.86 L264.50,1220.92 L265.00,1217.06 L265.50,1213.22 L266.00,1209.32 L266.50,1205.30 L267.00,1201.09 L267.50,1196.64 L268.00,1191.86 L268.50,1186.70 L269.00,1181.09 L269.30,1177.48 L269.50,1174.78 L270.00,1166.33 L270.50,1156.33 L271.00,1145.86 L271.50,1136.00 L272.00,1127.82 L272.20,1125.26 L272.50,1121.70 L273.00,1115.74 L273.50,1110.55 L274.00,1107.04 L274.40,1106.06 L274.50,1106.08 L275.00,1106.82 L275.50,1108.40 L276.00,1110.58 L276.50,1113.08 L277.00,1115.66 L277.50,1118.60 L278.00,1122.26 L278.50,1126.46 L279.00,1131.03 L279.50,1135.81 L280.00,1140.64 L280.20,1142.54 L280.50,1145.38 L281.00,1150.21 L281.50,1155.22 L282.00,1160.50 L282.50,1166.14 L283.00,1172.22 L283.20,1174.80 L283.50,1178.99 L284.00,1186.95 L284.50,1195.78 L285.00,1205.09 L285.50,1214.46 L286.00,1223.49 L286.50,1231.78 L286.80,1236.24 L287.00,1239.07 L287.50,1246.28 L288.00,1253.47 L288.50,1260.40 L289.00,1266.80 L289.50,1272.43 L290.00,1277.05 L290.50,1280.40 L291.00,1282.85 L291.50,1284.97 L292.00,1286.81 L292.50,1288.41 L293.00,1289.83 L293.50,1291.11 L294.00,1292.30 L294.50,1293.39 L295.00,1294.34 L295.50,1295.21 L296.00,1296.03 L296.50,1296.84 L297.00,1297.68 L297.50,1298.55 L298.00,1299.45 L298.50,1300.36 L299.00,1301.26 L299.50,1302.17 L300.00,1303.05 L300.50,1303.92 L301.00,1304.76 L301.50,1305.56 L302.00,1306.32 L302.50,1307.02 L303.00,1307.66 L303.50,1308.28 L304.00,1308.92 L304.50,1309.55 L305.00,1310.15 L305.50,1310.70 L306.00,1311.17 L306.50,1311.55 L307.00,1311.80 L307.30,1311.88 L307.50,1311.92 L308.00,1312.01 L308.50,1312.09 L309.00,1312.17 L309.50,1312.24 L310.00,1312.30 L310.50,1312.35 L311.00,1312.41 L311.50,1312.45 L312.00,1312.50 L312.50,1312.54 L313.00,1312.57 L313.50,1312.61 L314.00,1312.64 L314.50,1312.67 L315.00,1312.70 L315.50,1312.73 L316.00,1312.76 L316.50,1312.78 L317.00,1312.81 L317.50,1312.85 L318.00,1312.88 L318.50,1312.91 L319.00,1312.95 L319.50,1312.99 L320.00,1313.04 L320.50,1313.08 L321.00,1313.14 L321.50,1313.19 L322.00,1313.25 L322.50,1313.31 L323.00,1313.37 L323.50,1313.44 L324.00,1313.50 L324.50,1313.56 L325.00,1313.63 L325.50,1313.69 L326.00,1313.75 L326.50,1313.81 L327.00,1313.87 L327.50,1313.92 L328.00,1313.97 L328.50,1314.02 L329.00,1314.06 L329.50,1314.10 L330.00,1314.13 L330.50,1314.15 L331.00,1314.17 L331.50,1314.18 L332.00,1314.19 L332.50,1314.14 L333.00,1314.02 L333.50,1313.84 L334.00,1313.60 L334.50,1313.33 L335.00,1313.04 L335.50,1312.73 L336.00,1312.43 L336.50,1312.14 L337.00,1311.88 L337.50,1311.63 L338.00,1311.33 L338.50,1311.02 L339.00,1310.69 L339.50,1310.37 L340.00,1310.06 L340.50,1309.78 L341.00,1309.55 L341.50,1309.36 L342.00,1309.24 L342.50,1309.20 L343.00,1309.23 L343.50,1309.33 L344.00,1309.48 L344.50,1309.67 L345.00,1309.89 L345.50,1310.11 L346.00,1310.34 L346.50,1310.55 L347.00,1310.73 L347.50,1310.91 L348.00,1311.12 L348.50,1311.33 L349.00,1311.53 L349.50,1311.70 L350.00,1311.83 L350.50,1311.88 L350.60,1311.88 L351.00,1311.87 L351.50,1311.80 L352.00,1311.70 L352.50,1311.56 L353.00,1311.41 L353.50,1311.24 L354.00,1311.06 L354.50,1310.89 L355.00,1310.73 L355.50,1310.56 L356.00,1310.35 L356.50,1310.12 L357.00,1309.89 L357.50,1309.67 L358.00,1309.47 L358.50,1309.32 L359.00,1309.22 L359.40,1309.20 L359.50,1309.20 L360.00,1309.25 L360.50,1309.38 L361.00,1309.56 L361.50,1309.79 L362.00,1310.04 L362.50,1310.32 L363.00,1310.60 L363.50,1310.87 L364.00,1311.12 L364.50,1311.37 L365.00,1311.65 L365.50,1311.94 L366.00,1312.25 L366.50,1312.56 L367.00,1312.86 L367.50,1313.14 L368.00,1313.40 L368.50,1313.62 L369.00,1313.80 L369.50,1313.96 L370.00,1314.11 L370.50,1314.25 L371.00,1314.38 L371.50,1314.51 L372.00,1314.64 L372.50,1314.76 L373.00,1314.88 L373.50,1314.99 L374.00,1315.09 L374.50,1315.19 L375.00,1315.29 L375.50,1315.38 L376.00,1315.47 L376.50,1315.56 L377.00,1315.64 L377.50,1315.72 L378.00,1315.80 L378.50,1315.87 L379.00,1315.94 L379.50,1316.01 L380.00,1316.07 L380.30,1316.11 L380.50,1316.13 L381.00,1316.20 L381.50,1316.26 L382.00,1316.32 L382.50,1316.39 L383.00,1316.45 L383.50,1316.51 L384.00,1316.57 L384.50,1316.63 L385.00,1316.68 L385.50,1316.74 L386.00,1316.79 L386.50,1316.83 L387.00,1316.87 L387.50,1316.91 L388.00,1316.93 L388.50,1316.96 L389.00,1316.98 L389.50,1316.99 L390.00,1316.99 L390.50,1316.99 L391.00,1316.99 L391.50,1316.99 L392.00,1316.98 L392.50,1316.98 L393.00,1316.97 L393.50,1316.97 L394.00,1316.96 L394.50,1316.95 L395.00,1316.95 L395.50,1316.94 L396.00,1316.93 L396.50,1316.91 L397.00,1316.90 L397.50,1316.89 L398.00,1316.88 L398.50,1316.85 L399.00,1316.82 L399.50,1316.76 L400.00,1316.70 L400.50,1316.62 L401.00,1316.52 L401.50,1316.41 L402.00,1316.30 L402.50,1316.16 L402.70,1316.11 L403.00,1316.00 L403.50,1315.75 L404.00,1315.41 L404.50,1314.99 L405.00,1314.51 L405.50,1313.98 L406.00,1313.42 L406.50,1312.76 L407.00,1311.94 L407.50,1310.99 L408.00,1309.95 L408.50,1308.83 L409.00,1307.66 L409.50,1306.36 L410.00,1304.86 L410.50,1303.22 L411.00,1301.50 L411.50,1299.76 L412.00,1298.05 L412.50,1296.44 L413.00,1294.99 L413.50,1293.54 L414.00,1291.98 L414.50,1290.39 L415.00,1288.86 L415.50,1287.47 L416.00,1286.32 L416.50,1285.48 L417.00,1285.05 L417.20,1285.00 L417.50,1285.16 L418.00,1285.99 L418.50,1287.35 L419.00,1289.01 L419.50,1290.74 L420.00,1292.30 L420.50,1294.00 L421.00,1296.00 L421.50,1297.88 L422.00,1299.21 L422.40,1299.60 L422.50,1299.59 L423.00,1299.33 L423.50,1298.78 L424.00,1298.04 L424.50,1297.21 L425.00,1296.39 L425.50,1295.68 L426.00,1295.18 L426.50,1294.99 L427.00,1295.52 L427.50,1296.94 L428.00,1298.95 L428.50,1301.28 L429.00,1303.63 L429.50,1305.73 L430.00,1307.29 L430.50,1308.02 L430.60,1308.04 L431.00,1307.64 L431.50,1306.31 L432.00,1304.55 L432.50,1302.90 L433.00,1301.90 L433.50,1301.50 L434.00,1301.24 L434.50,1301.02 L435.00,1300.76 L435.50,1300.36 L436.00,1299.69 L436.50,1298.69 L437.00,1297.43 L437.50,1295.95 L437.80,1294.99 L438.00,1294.20 L438.50,1291.35 L439.00,1288.06 L439.50,1285.27 L439.80,1284.24 L440.00,1283.78 L440.50,1282.73 L441.00,1281.94 L441.50,1281.56 L441.60,1281.55 L442.00,1282.43 L442.50,1285.31 L443.00,1288.98 L443.20,1290.38 L443.50,1292.71 L444.00,1297.42 L444.50,1301.89 L444.80,1303.82 L445.00,1304.83 L445.50,1307.30 L446.00,1309.43 L446.50,1310.93 L447.00,1311.50 L447.50,1310.67 L448.00,1308.68 L448.50,1306.23 L449.00,1304.06 L449.20,1303.44 L449.50,1302.61 L450.00,1301.19 L450.50,1299.90 L451.00,1298.92 L451.50,1298.46 L451.60,1298.44 L452.00,1298.79 L452.50,1300.02 L453.00,1301.83 L453.50,1303.93 L454.00,1305.97 L454.50,1307.66 L455.00,1309.15 L455.50,1310.76 L456.00,1312.40 L456.50,1313.97 L457.00,1315.39 L457.50,1316.55 L458.00,1317.38 L458.50,1317.78 L458.60,1317.80 L459.00,1317.83 L459.50,1317.87 L460.00,1317.91 L460.50,1317.94 L461.00,1317.97 L461.50,1318.00 L462.00,1318.03 L462.50,1318.06 L463.00,1318.08 L463.50,1318.10 L464.00,1318.12 L464.50,1318.14 L465.00,1318.15 L465.50,1318.17 L466.00,1318.18 L466.50,1318.19 L467.00,1318.20 L467.50,1318.20 L468.00,1318.21 L468.50,1318.21 L469.00,1318.22 L469.50,1318.22 L470.00,1318.22 L470.50,1318.22 L471.00,1318.22 L471.50,1318.22 L472.00,1318.22 L472.50,1318.22 L473.00,1318.22 L473.50,1318.22 L474.00,1318.22 L474.50,1318.22 L475.00,1318.22 L475.50,1318.22 L476.00,1318.22 L476.50,1318.22 L477.00,1318.22 L477.50,1318.22 L478.00,1318.22 L478.50,1318.22 L479.00,1318.22 L479.50,1318.22 L480.00,1318.22 L480.50,1318.22 L481.00,1318.22 L481.50,1318.22 L482.00,1318.22 L482.50,1318.22 L483.00,1318.22 L483.50,1318.22 L484.00,1318.22 L484.50,1318.22 L485.00,1318.22 L485.50,1318.22 L486.00,1318.22 L486.50,1318.22 L487.00,1318.22 L487.50,1318.22 L488.00,1318.22 L488.50,1318.22 L489.00,1318.22 L489.50,1318.22 L490.00,1318.22 L490.50,1318.22 L491.00,1318.22 L491.50,1318.22 L492.00,1318.22 L492.50,1318.22 L493.00,1318.22 L493.50,1318.22 L494.00,1318.22 L494.50,1318.22 L495.00,1318.22 L495.50,1318.22 L496.00,1318.22 L496.50,1318.22 L497.00,1318.22 L497.50,1318.22 L498.00,1318.22 L498.50,1318.22 L499.00,1318.22 L499.50,1318.22 L500.00,1318.22 L500.50,1318.22 L501.00,1318.22 L501.50,1318.22 L502.00,1318.22 L502.50,1318.22 L503.00,1318.22 L503.50,1318.22 L504.00,1318.22 L504.50,1318.22 L505.00,1318.22 L505.50,1318.22 L506.00,1318.22 L506.50,1318.22 L507.00,1318.22 L507.50,1318.22 L508.00,1318.22 L508.50,1318.22 L509.00,1318.22 L509.50,1318.22 L510.00,1318.22 L510.50,1318.22 L511.00,1318.22 L511.50,1318.22 L512.00,1318.22 L512.50,1318.22 L513.00,1318.22 L513.50,1318.22 L514.00,1318.22 L514.50,1318.22 L515.00,1318.22 L515.50,1318.22 L516.00,1318.22 L516.50,1318.17 L517.00,1318.01 L517.50,1317.78 L518.00,1317.49 L518.50,1317.15 L519.00,1316.79 L519.50,1316.42 L520.00,1316.06 L520.50,1315.72 L521.00,1315.35 L521.50,1314.90 L522.00,1314.42 L522.50,1313.95 L523.00,1313.53 L523.50,1313.22 L524.00,1313.05 L524.20,1313.04 L524.50,1313.07 L525.00,1313.26 L525.50,1313.59 L526.00,1314.01 L526.50,1314.47 L527.00,1314.94 L527.50,1315.37 L528.00,1315.72 L528.50,1316.03 L529.00,1316.36 L529.50,1316.70 L530.00,1317.03 L530.50,1317.34 L531.00,1317.62 L531.50,1317.87 L532.00,1318.05 L532.50,1318.18 L533.00,1318.22 L533.50,1318.22 L534.00,1318.22 L534.50,1318.22 L535.00,1318.22 L535.50,1318.22 L536.00,1318.22 L536.50,1318.22 L537.00,1318.22 L537.50,1318.22 L538.00,1318.22 L538.50,1318.22 L539.00,1318.22 L539.50,1318.22 L540.00,1318.22 L540.50,1318.22 L541.00,1318.22 L541.50,1318.22 L542.00,1318.22 L542.50,1318.22 L543.00,1318.22 L543.50,1318.22 L544.00,1318.22 L544.50,1318.22 L545.00,1318.22 L545.50,1318.22 L546.00,1318.22 L546.50,1318.22 L547.00,1318.22 L547.50,1318.22 L548.00,1318.22 L548.50,1318.22 L549.00,1318.22 L549.50,1318.22 L550.00,1318.22 L550.50,1318.22 L551.00,1318.22 L551.50,1318.22 L552.00,1318.22 L552.50,1318.22 L553.00,1318.22 L553.50,1318.22 L554.00,1318.22 L554.50,1318.22 L555.00,1318.22 L555.50,1318.22 L556.00,1318.22 L556.50,1318.22 L557.00,1318.22 L557.50,1318.22 L558.00,1318.22 L558.50,1318.22 L559.00,1318.22 L559.50,1318.22 L560.00,1318.22 L560.50,1318.22 L561.00,1318.22 L561.50,1318.22 L562.00,1318.22 L562.50,1318.22 L563.00,1318.22 L563.50,1318.22 L564.00,1318.22 L564.50,1318.22 L565.00,1318.22 L565.50,1318.22 L566.00,1318.22 L566.50,1318.22 L567.00,1318.22 L567.50,1318.22 L568.00,1318.22 L568.50,1318.22 L569.00,1318.22 L569.50,1318.22 L570.00,1318.22 L570.50,1318.22 L571.00,1318.22 L571.50,1318.22 L572.00,1318.22 L572.50,1318.22 L573.00,1318.22 L573.50,1318.22 L574.00,1318.22 L574.50,1318.22 L575.00,1318.22 L575.50,1318.22 L576.00,1318.22 L576.50,1318.22 L577.00,1318.22 L577.50,1318.22 L578.00,1318.22 L578.50,1318.22 L579.00,1318.22 L579.50,1318.22 L580.00,1318.22 L580.50,1318.22 L581.00,1318.22 L581.50,1318.22 L582.00,1318.22 L582.50,1318.22 L583.00,1318.22 L583.50,1318.22 L584.00,1318.22 L584.50,1318.22 L585.00,1318.22 L585.50,1318.22 L586.00,1318.22 L586.50,1318.15 L587.00,1317.97 L587.50,1317.69 L588.00,1317.32 L588.50,1316.90 L589.00,1316.43 L589.50,1315.94 L590.00,1315.44 L590.50,1314.96 L591.00,1314.36 L591.50,1313.59 L592.00,1312.72 L592.50,1311.84 L593.00,1311.04 L593.50,1310.41 L594.00,1310.03 L594.30,1309.96 L594.50,1310.00 L595.00,1310.34 L595.50,1310.96 L596.00,1311.78 L596.50,1312.69 L597.00,1313.58 L597.50,1314.37 L598.00,1314.96 L598.50,1315.41 L599.00,1315.87 L599.50,1316.32 L600.00,1316.75 L600.50,1317.15 L601.00,1317.50 L601.50,1317.80 L602.00,1318.02 L602.50,1318.17 L603.00,1318.22 L603.50,1318.22 L604.00,1318.22 L604.50,1318.22 L605.00,1318.22 L605.50,1318.22 L606.00,1318.22 L606.50,1318.22 L607.00,1318.22 L607.50,1318.22 L608.00,1318.22 L608.50,1318.22 L609.00,1318.22 L609.50,1318.22 L610.00,1318.22 L610.50,1318.22 L611.00,1318.22 L611.50,1318.22 L612.00,1318.22 L612.50,1318.22 L613.00,1318.22 L613.50,1318.22 L614.00,1318.22 L614.50,1318.22 L615.00,1318.22 L615.50,1318.22 L616.00,1318.22 L616.50,1318.22 L617.00,1318.22 L617.50,1318.22 L618.00,1318.22 L618.50,1318.22 L619.00,1318.22 L619.50,1318.22 L620.00,1318.22 L620.50,1318.22 L621.00,1318.22 L621.50,1318.22 L622.00,1318.22"/><path id="cva" d="M89.30,1575.91 L89.80,1575.91 L90.30,1575.91 L90.80,1575.91 L91.30,1575.91 L91.80,1575.91 L92.30,1575.91 L92.80,1575.91 L93.30,1575.91 L93.80,1575.91 L94.30,1575.91 L94.80,1575.91 L95.30,1575.91 L95.80,1575.91 L96.30,1575.91 L96.80,1575.91 L97.30,1575.91 L97.80,1575.91 L98.30,1575.91 L98.80,1575.91 L99.30,1575.91 L99.80,1575.91 L100.30,1575.91 L100.80,1575.91 L101.30,1575.91 L101.80,1575.91 L102.30,1575.91 L102.80,1575.91 L103.30,1575.91 L103.80,1575.91 L104.30,1575.91 L104.80,1575.91 L105.30,1575.91 L105.80,1575.91 L106.30,1575.91 L106.80,1575.91 L107.30,1575.91 L107.80,1575.91 L108.30,1575.91 L108.80,1575.91 L109.30,1575.91 L109.80,1575.91 L110.30,1575.91 L110.80,1575.91 L111.30,1575.91 L111.80,1575.91 L112.30,1575.91 L112.80,1575.91 L113.30,1575.91 L113.80,1575.91 L114.30,1575.91 L114.80,1575.91 L115.30,1575.91 L115.80,1575.91 L116.30,1575.91 L116.80,1575.91 L117.30,1575.91 L117.80,1575.91 L118.30,1575.91 L118.80,1575.91 L119.30,1575.91 L119.80,1575.91 L120.30,1575.91 L120.80,1575.91 L121.30,1575.91 L121.80,1575.91 L122.30,1575.91 L122.80,1575.91 L123.30,1575.91 L123.80,1575.91 L124.30,1575.91 L124.80,1575.91 L125.30,1575.91 L125.80,1575.91 L126.30,1575.91 L126.80,1575.91 L127.30,1575.91 L127.80,1575.91 L128.30,1575.91 L128.80,1575.91 L129.30,1575.91 L129.80,1575.91 L130.30,1575.91 L130.80,1575.91 L131.30,1575.91 L131.80,1575.91 L132.30,1575.91 L132.80,1575.91 L133.30,1575.91 L133.80,1575.91 L134.30,1575.91 L134.80,1575.91 L135.30,1575.91 L135.80,1575.91 L136.30,1575.91 L136.80,1575.91 L137.30,1575.91 L137.80,1575.91 L138.30,1575.91 L138.80,1575.91 L139.30,1575.91 L139.80,1575.91 L140.30,1575.91 L140.80,1575.91 L141.30,1575.91 L141.80,1575.91 L142.30,1575.91 L142.80,1575.91 L143.30,1575.91 L143.80,1575.91 L144.30,1575.91 L144.80,1575.91 L145.30,1575.91 L145.80,1575.91 L146.30,1575.91 L146.80,1575.91 L147.30,1575.91 L147.80,1575.91 L148.30,1575.91 L148.80,1575.91 L149.30,1575.91 L149.80,1575.91 L150.00,1575.91 L150.30,1575.91 L150.80,1575.91 L151.30,1575.90 L151.80,1575.88 L152.30,1575.86 L152.80,1575.84 L153.30,1575.81 L153.80,1575.78 L154.30,1575.74 L154.80,1575.69 L155.30,1575.65 L155.80,1575.59 L156.30,1575.53 L156.80,1575.47 L157.30,1575.40 L157.80,1575.32 L158.00,1575.29 L158.30,1575.22 L158.80,1574.98 L159.30,1574.62 L159.80,1574.15 L160.30,1573.59 L160.80,1572.94 L161.30,1572.23 L161.80,1571.46 L162.00,1571.15 L162.30,1570.57 L162.80,1569.21 L163.30,1567.52 L163.80,1565.69 L164.30,1563.90 L164.80,1562.34 L165.00,1561.82 L165.30,1561.07 L165.80,1559.73 L166.30,1558.45 L166.80,1557.40 L167.30,1556.76 L167.60,1556.64 L167.80,1556.86 L168.30,1558.91 L168.80,1562.35 L169.30,1566.19 L169.80,1569.44 L170.30,1571.09 L170.40,1571.15 L170.80,1570.23 L171.30,1567.14 L171.80,1562.99 L172.30,1558.98 L172.50,1557.68 L172.80,1555.76 L173.30,1552.20 L173.80,1549.01 L174.30,1547.10 L174.50,1546.91 L174.80,1547.05 L175.30,1547.76 L175.80,1548.77 L176.30,1549.75 L176.80,1550.36 L177.00,1550.43 L177.30,1550.18 L177.80,1548.74 L178.30,1546.23 L178.80,1542.87 L179.30,1538.89 L179.80,1534.51 L180.10,1531.78 L180.30,1529.76 L180.80,1523.20 L181.30,1514.80 L181.80,1504.95 L182.00,1500.70 L182.30,1493.47 L182.80,1478.69 L183.30,1461.68 L183.60,1450.97 L183.80,1443.18 L184.30,1420.53 L184.80,1398.82 L185.00,1391.92 L185.30,1382.14 L185.80,1368.08 L186.10,1364.98 L186.30,1366.07 L186.80,1375.82 L187.30,1389.42 L187.40,1391.92 L187.80,1402.00 L188.30,1415.86 L188.80,1431.05 L189.30,1447.53 L189.40,1450.97 L189.80,1466.99 L190.30,1488.35 L190.50,1495.52 L190.80,1504.41 L191.30,1517.30 L191.50,1522.46 L191.80,1531.63 L192.30,1548.33 L192.80,1558.36 L192.90,1558.72 L193.30,1557.89 L193.80,1555.31 L194.30,1552.40 L194.50,1551.46 L194.80,1550.15 L195.30,1547.75 L195.80,1545.61 L196.30,1544.34 L196.50,1544.21 L196.80,1544.52 L197.30,1546.19 L197.80,1548.81 L198.30,1551.82 L198.80,1554.65 L199.00,1555.61 L199.30,1557.00 L199.80,1559.51 L200.30,1562.15 L200.80,1564.80 L201.30,1567.31 L201.80,1569.56 L202.30,1571.41 L202.80,1572.74 L203.10,1573.22 L203.30,1573.45 L203.80,1574.01 L204.30,1574.51 L204.80,1574.95 L205.30,1575.32 L205.80,1575.61 L206.30,1575.81 L206.80,1575.90 L207.00,1575.91 L207.30,1575.91 L207.80,1575.91 L208.30,1575.91 L208.80,1575.91 L209.30,1575.91 L209.80,1575.91 L210.30,1575.91 L210.80,1575.91 L211.30,1575.91 L211.80,1575.91 L212.30,1575.91 L212.80,1575.91 L213.30,1575.91 L213.80,1575.91 L214.30,1575.91 L214.80,1575.91 L215.30,1575.91 L215.80,1575.91 L216.30,1575.91 L216.80,1575.91 L217.30,1575.91 L217.80,1575.91 L218.30,1575.91 L218.80,1575.91 L219.30,1575.91 L219.80,1575.91 L220.30,1575.91 L220.80,1575.91 L221.30,1575.91 L221.80,1575.91 L222.30,1575.91 L222.80,1575.91 L223.30,1575.91 L223.80,1575.91 L224.30,1575.91 L224.80,1575.91 L225.30,1575.91 L225.80,1575.91 L226.30,1575.91 L226.80,1575.91 L227.30,1575.91 L227.80,1575.91 L228.30,1575.91 L228.80,1575.91 L229.30,1575.91 L229.80,1575.91 L230.00,1575.91 L230.30,1575.91 L230.80,1575.91 L231.30,1575.90 L231.80,1575.89 L232.30,1575.88 L232.80,1575.87 L233.30,1575.85 L233.80,1575.83 L234.30,1575.80 L234.80,1575.78 L235.30,1575.75 L235.80,1575.71 L236.30,1575.68 L236.80,1575.64 L237.30,1575.61 L237.80,1575.57 L238.30,1575.52 L238.80,1575.48 L239.30,1575.43 L239.80,1575.38 L240.30,1575.33 L240.80,1575.28 L241.30,1575.22 L241.80,1575.17 L242.30,1575.11 L242.80,1575.05 L243.30,1574.99 L243.80,1574.93 L244.30,1574.86 L244.80,1574.80 L245.00,1574.77 L245.30,1574.73 L245.80,1574.65 L246.30,1574.55 L246.80,1574.44 L247.30,1574.31 L247.80,1574.17 L248.30,1574.02 L248.80,1573.86 L249.30,1573.68 L249.80,1573.50 L250.30,1573.31 L250.80,1573.10 L251.30,1572.89 L251.80,1572.67 L252.30,1572.45 L252.80,1572.22 L253.30,1571.98 L253.80,1571.74 L254.30,1571.50 L254.80,1571.25 L255.00,1571.15 L255.30,1570.99 L255.80,1570.70 L256.30,1570.38 L256.80,1570.03 L257.30,1569.66 L257.80,1569.27 L258.30,1568.86 L258.80,1568.44 L259.30,1568.01 L259.80,1567.58 L260.30,1567.14 L260.80,1566.71 L261.30,1566.28 L261.80,1565.87 L262.30,1565.47 L262.80,1565.08 L263.00,1564.93 L263.30,1564.71 L263.80,1564.31 L264.30,1563.88 L264.80,1563.44 L265.30,1562.99 L265.80,1562.53 L266.30,1562.07 L266.80,1561.61 L267.30,1561.17 L267.80,1560.75 L268.30,1560.35 L268.80,1559.98 L269.30,1559.64 L269.80,1559.35 L270.30,1559.11 L270.80,1558.92 L271.30,1558.79 L271.80,1558.72 L272.00,1558.72 L272.30,1558.73 L272.80,1558.83 L273.30,1559.00 L273.80,1559.24 L274.30,1559.54 L274.80,1559.90 L275.30,1560.31 L275.80,1560.75 L276.30,1561.22 L276.80,1561.72 L277.30,1562.23 L277.80,1562.75 L278.30,1563.27 L278.80,1563.78 L279.30,1564.28 L279.80,1564.75 L280.00,1564.93 L280.30,1565.21 L280.80,1565.71 L281.30,1566.25 L281.80,1566.83 L282.30,1567.43 L282.80,1568.05 L283.30,1568.68 L283.80,1569.30 L284.30,1569.92 L284.80,1570.51 L285.30,1571.07 L285.80,1571.59 L286.30,1572.07 L286.80,1572.49 L287.30,1572.85 L287.80,1573.13 L288.00,1573.22 L288.30,1573.34 L288.80,1573.54 L289.30,1573.74 L289.80,1573.92 L290.30,1574.10 L290.80,1574.27 L291.30,1574.43 L291.80,1574.58 L292.30,1574.72 L292.80,1574.84 L293.30,1574.95 L293.80,1575.05 L294.30,1575.13 L294.80,1575.20 L295.30,1575.25 L295.80,1575.28 L296.00,1575.29 L296.30,1575.30 L296.80,1575.32 L297.30,1575.34 L297.80,1575.35 L298.30,1575.37 L298.80,1575.39 L299.30,1575.40 L299.80,1575.42 L300.30,1575.43 L300.80,1575.44 L301.30,1575.46 L301.80,1575.47 L302.30,1575.49 L302.80,1575.50 L303.30,1575.51 L303.80,1575.52 L304.30,1575.54 L304.80,1575.55 L305.30,1575.56 L305.80,1575.57 L306.30,1575.58 L306.80,1575.59 L307.30,1575.60 L307.80,1575.61 L308.30,1575.62 L308.80,1575.63 L309.30,1575.64 L309.80,1575.65 L310.30,1575.66 L310.80,1575.67 L311.30,1575.68 L311.80,1575.68 L312.30,1575.69 L312.80,1575.70 L313.30,1575.70 L313.80,1575.71 L314.30,1575.72 L314.80,1575.72 L315.30,1575.73 L315.80,1575.74 L316.30,1575.74 L316.80,1575.75 L317.30,1575.75 L317.80,1575.76 L318.30,1575.76 L318.80,1575.77 L319.30,1575.77 L319.80,1575.77 L320.30,1575.78 L320.80,1575.78 L321.30,1575.78 L321.80,1575.79 L322.30,1575.79 L322.80,1575.79 L323.30,1575.79 L323.80,1575.80 L324.30,1575.80 L324.80,1575.80 L325.30,1575.80 L325.80,1575.80 L326.30,1575.81 L326.80,1575.81 L327.30,1575.81 L327.80,1575.81 L328.30,1575.81 L328.80,1575.81 L329.30,1575.81 L329.80,1575.81 L330.00,1575.81 L330.30,1575.81 L330.80,1575.80 L331.30,1575.78 L331.80,1575.75 L332.30,1575.72 L332.80,1575.67 L333.30,1575.62 L333.80,1575.56 L334.30,1575.49 L334.80,1575.42 L335.30,1575.34 L335.80,1575.25 L336.30,1575.15 L336.80,1575.05 L337.30,1574.94 L337.80,1574.83 L338.30,1574.71 L338.80,1574.58 L339.30,1574.45 L339.80,1574.31 L340.00,1574.26 L340.30,1574.15 L340.80,1573.90 L341.30,1573.57 L341.80,1573.17 L342.30,1572.72 L342.80,1572.23 L343.30,1571.73 L343.80,1571.23 L344.30,1570.74 L344.80,1570.28 L345.00,1570.11 L345.30,1569.84 L345.80,1569.34 L346.30,1568.79 L346.80,1568.24 L347.30,1567.71 L347.80,1567.24 L348.30,1566.88 L348.80,1566.65 L349.20,1566.59 L349.30,1566.59 L349.80,1566.76 L350.30,1567.11 L350.80,1567.59 L351.30,1568.17 L351.80,1568.79 L352.30,1569.39 L352.80,1569.93 L353.00,1570.11 L353.30,1570.38 L353.80,1570.86 L354.30,1571.37 L354.80,1571.88 L355.30,1572.38 L355.80,1572.86 L356.30,1573.29 L356.80,1573.67 L357.30,1573.98 L357.80,1574.20 L358.00,1574.26 L358.30,1574.33 L358.80,1574.45 L359.30,1574.56 L359.80,1574.67 L360.30,1574.78 L360.80,1574.88 L361.30,1574.98 L361.80,1575.07 L362.30,1575.15 L362.80,1575.23 L363.30,1575.31 L363.80,1575.38 L364.30,1575.45 L364.80,1575.51 L365.30,1575.56 L365.80,1575.61 L366.30,1575.65 L366.80,1575.69 L367.30,1575.73 L367.80,1575.75 L368.30,1575.78 L368.80,1575.79 L369.30,1575.80 L369.80,1575.81 L370.00,1575.81 L370.30,1575.81 L370.80,1575.81 L371.30,1575.81 L371.80,1575.81 L372.30,1575.81 L372.80,1575.80 L373.30,1575.80 L373.80,1575.80 L374.30,1575.80 L374.80,1575.79 L375.30,1575.79 L375.80,1575.79 L376.30,1575.78 L376.80,1575.78 L377.30,1575.77 L377.80,1575.76 L378.30,1575.76 L378.80,1575.75 L379.30,1575.74 L379.80,1575.73 L380.30,1575.72 L380.80,1575.71 L381.30,1575.70 L381.80,1575.69 L382.30,1575.68 L382.80,1575.67 L383.30,1575.65 L383.80,1575.64 L384.30,1575.62 L384.80,1575.61 L385.30,1575.59 L385.80,1575.58 L386.30,1575.56 L386.80,1575.54 L387.30,1575.52 L387.80,1575.50 L388.30,1575.48 L388.80,1575.46 L389.30,1575.43 L389.80,1575.41 L390.30,1575.38 L390.80,1575.36 L391.30,1575.33 L391.80,1575.30 L392.00,1575.29 L392.30,1575.26 L392.80,1575.11 L393.30,1574.88 L393.80,1574.58 L394.30,1574.21 L394.80,1573.79 L395.30,1573.34 L395.80,1572.86 L396.30,1572.38 L396.50,1572.18 L396.80,1571.88 L397.30,1571.32 L397.80,1570.69 L398.30,1569.99 L398.80,1569.23 L399.30,1568.40 L399.80,1567.50 L400.30,1566.53 L400.80,1565.50 L401.30,1564.40 L401.70,1563.48 L401.80,1563.24 L402.30,1561.85 L402.80,1560.21 L403.30,1558.37 L403.80,1556.40 L404.30,1554.35 L404.80,1552.28 L405.00,1551.46 L405.30,1550.18 L405.80,1547.82 L406.30,1545.28 L406.80,1542.68 L407.30,1540.13 L407.80,1537.76 L408.30,1535.66 L408.70,1534.27 L408.80,1533.96 L409.30,1532.69 L409.80,1531.65 L410.30,1530.59 L410.80,1529.31 L411.00,1528.67 L411.30,1527.49 L411.80,1524.91 L412.30,1521.80 L412.80,1518.45 L413.30,1515.13 L413.80,1512.11 L414.00,1511.06 L414.30,1509.51 L414.80,1506.75 L415.30,1503.88 L415.80,1501.04 L416.30,1498.34 L416.80,1495.91 L417.30,1493.88 L417.80,1492.38 L418.30,1491.52 L418.60,1491.38 L418.80,1491.56 L419.30,1493.41 L419.80,1496.59 L420.30,1500.29 L420.50,1501.74 L420.80,1504.04 L421.30,1508.63 L421.80,1513.90 L422.10,1517.28 L422.30,1519.74 L422.80,1527.17 L423.30,1535.42 L423.80,1543.31 L424.30,1549.64 L424.50,1551.46 L424.80,1553.83 L425.30,1557.67 L425.80,1561.16 L426.30,1564.04 L426.80,1566.06 L427.30,1566.98 L427.40,1567.00 L427.80,1566.59 L428.30,1565.13 L428.80,1562.99 L429.30,1560.58 L429.80,1558.28 L430.30,1556.50 L430.80,1555.64 L430.90,1555.61 L431.30,1555.81 L431.80,1556.53 L432.30,1557.58 L432.80,1558.76 L433.30,1559.89 L433.80,1560.77 L434.30,1561.19 L434.40,1561.20 L434.80,1560.07 L435.30,1556.46 L435.80,1552.13 L436.20,1549.39 L436.30,1548.86 L436.80,1546.02 L437.30,1543.51 L437.80,1542.18 L437.90,1542.14 L438.30,1542.86 L438.80,1545.35 L439.30,1548.84 L439.80,1552.50 L440.30,1557.41 L440.80,1563.88 L441.30,1569.95 L441.80,1573.66 L442.00,1574.05 L442.30,1574.03 L442.80,1573.89 L443.30,1573.66 L443.80,1573.35 L444.30,1572.98 L444.80,1572.57 L445.30,1572.14 L445.80,1571.71 L446.30,1571.30 L446.50,1571.15 L446.80,1570.90 L447.30,1570.40 L447.80,1569.83 L448.30,1569.26 L448.80,1568.74 L449.30,1568.33 L449.80,1568.08 L450.10,1568.04 L450.30,1568.06 L450.80,1568.32 L451.30,1568.79 L451.80,1569.40 L452.30,1570.11 L452.80,1570.82 L453.30,1571.48 L453.80,1572.02 L454.00,1572.18 L454.30,1572.41 L454.80,1572.79 L455.30,1573.16 L455.80,1573.53 L456.30,1573.89 L456.80,1574.22 L457.30,1574.53 L457.80,1574.81 L458.30,1575.05 L458.80,1575.25 L459.30,1575.39 L459.80,1575.48 L460.00,1575.50 L460.30,1575.52 L460.80,1575.55 L461.30,1575.58 L461.80,1575.60 L462.30,1575.63 L462.80,1575.65 L463.30,1575.67 L463.80,1575.69 L464.30,1575.71 L464.80,1575.73 L465.30,1575.74 L465.80,1575.76 L466.30,1575.77 L466.80,1575.78 L467.30,1575.79 L467.80,1575.80 L468.30,1575.80 L468.80,1575.81 L469.30,1575.81 L469.80,1575.81 L470.00,1575.81 L470.30,1575.81 L470.80,1575.81 L471.30,1575.81 L471.80,1575.81 L472.30,1575.81 L472.80,1575.81 L473.30,1575.81 L473.80,1575.81 L474.30,1575.81 L474.80,1575.81 L475.30,1575.81 L475.80,1575.81 L476.30,1575.81 L476.80,1575.81 L477.30,1575.81 L477.80,1575.81 L478.30,1575.81 L478.80,1575.81 L479.30,1575.81 L479.80,1575.81 L480.30,1575.81 L480.80,1575.81 L481.30,1575.81 L481.80,1575.81 L482.30,1575.81 L482.80,1575.81 L483.30,1575.81 L483.80,1575.81 L484.30,1575.81 L484.80,1575.81 L485.30,1575.81 L485.80,1575.81 L486.30,1575.81 L486.80,1575.81 L487.30,1575.81 L487.80,1575.81 L488.30,1575.81 L488.80,1575.81 L489.30,1575.81 L489.80,1575.81 L490.30,1575.81 L490.80,1575.81 L491.30,1575.81 L491.80,1575.81 L492.30,1575.81 L492.80,1575.81 L493.30,1575.81 L493.80,1575.81 L494.30,1575.81 L494.80,1575.81 L495.30,1575.81 L495.80,1575.81 L496.30,1575.81 L496.80,1575.81 L497.30,1575.81 L497.80,1575.81 L498.30,1575.81 L498.80,1575.81 L499.30,1575.81 L499.80,1575.81 L500.30,1575.81 L500.80,1575.81 L501.30,1575.81 L501.80,1575.81 L502.30,1575.81 L502.80,1575.81 L503.30,1575.81 L503.80,1575.81 L504.30,1575.81 L504.80,1575.81 L505.30,1575.81 L505.80,1575.81 L506.30,1575.81 L506.80,1575.81 L507.30,1575.81 L507.80,1575.81 L508.30,1575.81 L508.80,1575.81 L509.30,1575.81 L509.80,1575.81 L510.30,1575.81 L510.80,1575.81 L511.30,1575.81 L511.80,1575.81 L512.30,1575.81 L512.80,1575.81 L513.30,1575.81 L513.80,1575.81 L514.30,1575.81 L514.80,1575.81 L515.30,1575.81 L515.80,1575.81 L516.30,1575.81 L516.80,1575.81 L517.30,1575.81 L517.80,1575.81 L518.30,1575.81 L518.80,1575.81 L519.30,1575.81 L519.80,1575.81 L520.30,1575.81 L520.80,1575.81 L521.30,1575.81 L521.80,1575.81 L522.30,1575.81 L522.80,1575.81 L523.30,1575.81 L523.80,1575.81 L524.30,1575.81 L524.80,1575.81 L525.30,1575.81 L525.80,1575.81 L526.30,1575.81 L526.80,1575.81 L527.30,1575.81 L527.80,1575.81 L528.30,1575.81 L528.80,1575.81 L529.30,1575.81 L529.80,1575.81 L530.30,1575.81 L530.80,1575.81 L531.30,1575.81 L531.80,1575.81 L532.30,1575.81 L532.80,1575.81 L533.30,1575.81 L533.80,1575.81 L534.30,1575.81 L534.80,1575.81 L535.30,1575.81 L535.80,1575.81 L536.30,1575.81 L536.80,1575.81 L537.30,1575.81 L537.80,1575.81 L538.30,1575.81 L538.80,1575.81 L539.30,1575.81 L539.80,1575.81 L540.30,1575.81 L540.80,1575.81 L541.30,1575.81 L541.80,1575.81 L542.30,1575.81 L542.80,1575.81 L543.30,1575.81 L543.80,1575.81 L544.30,1575.81 L544.80,1575.81 L545.30,1575.81 L545.80,1575.81 L546.30,1575.81 L546.80,1575.81 L547.30,1575.81 L547.80,1575.81 L548.30,1575.81 L548.80,1575.81 L549.30,1575.81 L549.80,1575.81 L550.30,1575.81 L550.80,1575.81 L551.30,1575.81 L551.80,1575.81 L552.30,1575.81 L552.80,1575.81 L553.30,1575.81 L553.80,1575.81 L554.30,1575.81 L554.80,1575.81 L555.30,1575.81 L555.80,1575.81 L556.30,1575.81 L556.80,1575.81 L557.30,1575.81 L557.80,1575.81 L558.30,1575.81 L558.80,1575.81 L559.30,1575.81 L559.80,1575.81 L560.30,1575.81 L560.80,1575.81 L561.30,1575.81 L561.80,1575.81 L562.30,1575.81 L562.80,1575.81 L563.30,1575.81 L563.80,1575.81 L564.30,1575.81 L564.80,1575.81 L565.30,1575.81 L565.80,1575.81 L566.30,1575.81 L566.80,1575.81 L567.30,1575.81 L567.80,1575.81 L568.30,1575.81 L568.80,1575.81 L569.30,1575.81 L569.80,1575.81 L570.30,1575.81 L570.80,1575.81 L571.30,1575.81 L571.80,1575.81 L572.30,1575.81 L572.80,1575.81 L573.30,1575.81 L573.80,1575.81 L574.30,1575.81 L574.80,1575.81 L575.30,1575.81 L575.80,1575.81 L576.30,1575.81 L576.80,1575.81 L577.30,1575.81 L577.80,1575.81 L578.30,1575.81 L578.80,1575.81 L579.30,1575.81 L579.80,1575.81 L580.30,1575.81 L580.80,1575.81 L581.30,1575.81 L581.80,1575.81 L582.30,1575.81 L582.80,1575.81 L583.30,1575.81 L583.80,1575.81 L584.30,1575.81 L584.80,1575.81 L585.30,1575.81 L585.80,1575.81 L586.30,1575.81 L586.80,1575.81 L587.30,1575.81 L587.80,1575.81 L588.30,1575.81 L588.80,1575.81 L589.30,1575.81 L589.80,1575.81 L590.30,1575.81 L590.80,1575.81 L591.30,1575.81 L591.80,1575.81 L592.30,1575.81 L592.80,1575.81 L593.30,1575.81 L593.80,1575.81 L594.30,1575.81 L594.80,1575.81 L595.30,1575.81 L595.80,1575.81 L596.30,1575.81 L596.80,1575.81 L597.30,1575.81 L597.80,1575.81 L598.30,1575.81 L598.80,1575.81 L599.30,1575.81 L599.80,1575.81 L600.30,1575.81 L600.80,1575.81 L601.30,1575.81 L601.80,1575.81 L602.30,1575.81 L602.80,1575.81 L603.30,1575.81 L603.80,1575.81 L604.30,1575.81 L604.80,1575.81 L605.30,1575.81 L605.80,1575.81 L606.30,1575.81 L606.80,1575.81 L607.30,1575.81 L607.80,1575.81 L608.30,1575.81 L608.80,1575.81 L609.30,1575.81 L609.80,1575.81 L610.30,1575.81 L610.80,1575.81 L611.30,1575.81 L611.80,1575.81 L612.30,1575.81 L612.80,1575.81 L613.30,1575.81 L613.80,1575.81 L614.30,1575.81 L614.80,1575.81 L615.30,1575.81 L615.80,1575.81 L616.30,1575.81 L616.80,1575.81 L617.30,1575.81 L617.80,1575.81 L618.30,1575.81 L618.80,1575.81 L619.30,1575.81 L619.80,1575.81 L620.30,1575.81 L620.80,1575.81 L621.30,1575.81 L621.80,1575.81 L622.30,1575.81 L622.60,1575.81"/></defs>
<g fill="none" stroke="#a0151d" stroke-width="5.0" stroke-linejoin="round" stroke-linecap="round"><use href="#cve"/><use href="#cvd"/><use href="#cvc"/><use href="#cvb"/><use href="#cva"/></g>
<rect x="224.7" y="528.42" width="14.80" height="4.68" fill="rgba(141,143,144,0.72)"/>
<rect x="252.5" y="528.42" width="13.20" height="4.68" fill="rgba(141,143,144,0.72)"/>
<rect x="398.0" y="528.42" width="13.30" height="4.68" fill="rgba(141,143,144,0.72)"/>
<rect x="411.3" y="481.66" width="12.40" height="51.44" fill="rgba(141,143,144,0.72)"/>
<rect x="423.7" y="341.38" width="14.00" height="191.72" fill="rgba(141,143,144,0.72)"/>
<rect x="437.7" y="523.75" width="12.80" height="9.35" fill="rgba(141,143,144,0.72)"/>
<rect x="557.0" y="528.42" width="14.40" height="4.68" fill="rgba(141,143,144,0.72)"/>
<rect x="88.7" y="734.36" width="13.10" height="65.94" fill="rgba(141,143,144,0.72)"/>
<rect x="180.4" y="781.46" width="13.40" height="18.84" fill="rgba(141,143,144,0.72)"/>
<rect x="273.4" y="790.88" width="14.10" height="9.42" fill="rgba(141,143,144,0.72)"/>
<rect x="379.3" y="790.88" width="12.90" height="9.42" fill="rgba(141,143,144,0.72)"/>
<rect x="392.2" y="781.46" width="13.50" height="18.84" fill="rgba(141,143,144,0.72)"/>
<rect x="405.7" y="640.16" width="12.80" height="160.14" fill="rgba(141,143,144,0.72)"/>
<rect x="418.5" y="611.90" width="14.10" height="188.40" fill="rgba(141,143,144,0.72)"/>
<rect x="432.6" y="772.04" width="12.90" height="28.26" fill="rgba(141,143,144,0.72)"/>
<rect x="218.4" y="1045.70" width="14.20" height="15.40" fill="rgba(141,143,144,0.72)"/>
<rect x="245.2" y="1045.70" width="13.80" height="15.40" fill="rgba(141,143,144,0.72)"/>
<rect x="259.0" y="1045.70" width="14.20" height="15.40" fill="rgba(141,143,144,0.72)"/>
<rect x="312.3" y="1045.70" width="13.20" height="15.40" fill="rgba(141,143,144,0.72)"/>
<rect x="325.5" y="907.10" width="13.00" height="154.00" fill="rgba(141,143,144,0.72)"/>
<rect x="338.5" y="937.90" width="13.80" height="123.20" fill="rgba(141,143,144,0.72)"/>
<rect x="352.3" y="1030.30" width="12.90" height="30.80" fill="rgba(141,143,144,0.72)"/>
<rect x="404.9" y="860.90" width="13.20" height="200.20" fill="rgba(141,143,144,0.72)"/>
<rect x="418.1" y="922.50" width="13.40" height="138.60" fill="rgba(141,143,144,0.72)"/>
<rect x="114.1" y="1286.54" width="13.00" height="34.56" fill="rgba(141,143,144,0.72)"/>
<rect x="164.8" y="1263.50" width="12.50" height="57.60" fill="rgba(141,143,144,0.72)"/>
<rect x="179.9" y="1213.58" width="12.40" height="107.52" fill="rgba(141,143,144,0.72)"/>
<rect x="192.3" y="1294.22" width="13.80" height="26.88" fill="rgba(141,143,144,0.72)"/>
<rect x="206.1" y="1282.70" width="13.60" height="38.40" fill="rgba(141,143,144,0.72)"/>
<rect x="219.7" y="1290.38" width="12.70" height="30.72" fill="rgba(141,143,144,0.72)"/>
<rect x="232.4" y="1309.58" width="13.80" height="11.52" fill="rgba(141,143,144,0.72)"/>
<rect x="246.2" y="1271.18" width="13.60" height="49.92" fill="rgba(141,143,144,0.72)"/>
<rect x="259.8" y="1129.10" width="12.70" height="192.00" fill="rgba(141,143,144,0.72)"/>
<rect x="272.5" y="1175.18" width="14.00" height="145.92" fill="rgba(141,143,144,0.72)"/>
<rect x="286.5" y="1298.06" width="12.90" height="23.04" fill="rgba(141,143,144,0.72)"/>
<rect x="312.0" y="1313.42" width="13.70" height="7.68" fill="rgba(141,143,144,0.72)"/>
<rect x="325.7" y="1313.42" width="13.30" height="7.68" fill="rgba(141,143,144,0.72)"/>
<rect x="339.0" y="1313.42" width="13.30" height="7.68" fill="rgba(141,143,144,0.72)"/>
<rect x="352.3" y="1313.42" width="13.20" height="7.68" fill="rgba(141,143,144,0.72)"/>
<rect x="365.5" y="1317.26" width="13.20" height="3.84" fill="rgba(141,143,144,0.72)"/>
<rect x="405.3" y="1298.06" width="13.60" height="23.04" fill="rgba(141,143,144,0.72)"/>
<rect x="418.9" y="1298.06" width="12.90" height="23.04" fill="rgba(141,143,144,0.72)"/>
<rect x="431.8" y="1298.06" width="12.20" height="23.04" fill="rgba(141,143,144,0.72)"/>
<rect x="444.0" y="1313.42" width="12.30" height="7.68" fill="rgba(141,143,144,0.72)"/>
<rect x="517.5" y="1317.26" width="13.20" height="3.84" fill="rgba(141,143,144,0.72)"/>
<rect x="588.0" y="1317.26" width="13.20" height="3.84" fill="rgba(141,143,144,0.72)"/>
<rect x="155.2" y="1568.04" width="7.00" height="10.36" fill="rgba(141,143,144,0.72)"/>
<rect x="162.2" y="1557.68" width="6.30" height="20.72" fill="rgba(141,143,144,0.72)"/>
<rect x="168.5" y="1557.68" width="13.30" height="20.72" fill="rgba(141,143,144,0.72)"/>
<rect x="181.8" y="1381.56" width="13.70" height="196.84" fill="rgba(141,143,144,0.72)"/>
<rect x="195.5" y="1547.32" width="12.90" height="31.08" fill="rgba(141,143,144,0.72)"/>
<rect x="245.8" y="1568.04" width="14.40" height="10.36" fill="rgba(141,143,144,0.72)"/>
<rect x="260.2" y="1557.68" width="14.50" height="20.72" fill="rgba(141,143,144,0.72)"/>
<rect x="274.7" y="1547.32" width="14.10" height="31.08" fill="rgba(141,143,144,0.72)"/>
<rect x="332.4" y="1568.04" width="13.20" height="10.36" fill="rgba(141,143,144,0.72)"/>
<rect x="345.6" y="1568.04" width="13.20" height="10.36" fill="rgba(141,143,144,0.72)"/>
<rect x="395.8" y="1568.04" width="12.50" height="10.36" fill="rgba(141,143,144,0.72)"/>
<rect x="408.3" y="1423.00" width="13.50" height="155.40" fill="rgba(141,143,144,0.72)"/>
<rect x="421.8" y="1547.32" width="12.60" height="31.08" fill="rgba(141,143,144,0.72)"/>
<rect x="434.4" y="1557.68" width="14.00" height="20.72" fill="rgba(141,143,144,0.72)"/>
<rect x="448.4" y="1568.04" width="13.10" height="10.36" fill="rgba(141,143,144,0.72)"/>
<defs><clipPath id="barclip"><rect x="224.7" y="528.42" width="14.80" height="4.68"/><rect x="252.5" y="528.42" width="13.20" height="4.68"/><rect x="398.0" y="528.42" width="13.30" height="4.68"/><rect x="411.3" y="481.66" width="12.40" height="51.44"/><rect x="423.7" y="341.38" width="14.00" height="191.72"/><rect x="437.7" y="523.75" width="12.80" height="9.35"/><rect x="557.0" y="528.42" width="14.40" height="4.68"/><rect x="88.7" y="734.36" width="13.10" height="65.94"/><rect x="180.4" y="781.46" width="13.40" height="18.84"/><rect x="273.4" y="790.88" width="14.10" height="9.42"/><rect x="379.3" y="790.88" width="12.90" height="9.42"/><rect x="392.2" y="781.46" width="13.50" height="18.84"/><rect x="405.7" y="640.16" width="12.80" height="160.14"/><rect x="418.5" y="611.90" width="14.10" height="188.40"/><rect x="432.6" y="772.04" width="12.90" height="28.26"/><rect x="218.4" y="1045.70" width="14.20" height="15.40"/><rect x="245.2" y="1045.70" width="13.80" height="15.40"/><rect x="259.0" y="1045.70" width="14.20" height="15.40"/><rect x="312.3" y="1045.70" width="13.20" height="15.40"/><rect x="325.5" y="907.10" width="13.00" height="154.00"/><rect x="338.5" y="937.90" width="13.80" height="123.20"/><rect x="352.3" y="1030.30" width="12.90" height="30.80"/><rect x="404.9" y="860.90" width="13.20" height="200.20"/><rect x="418.1" y="922.50" width="13.40" height="138.60"/><rect x="114.1" y="1286.54" width="13.00" height="34.56"/><rect x="164.8" y="1263.50" width="12.50" height="57.60"/><rect x="179.9" y="1213.58" width="12.40" height="107.52"/><rect x="192.3" y="1294.22" width="13.80" height="26.88"/><rect x="206.1" y="1282.70" width="13.60" height="38.40"/><rect x="219.7" y="1290.38" width="12.70" height="30.72"/><rect x="232.4" y="1309.58" width="13.80" height="11.52"/><rect x="246.2" y="1271.18" width="13.60" height="49.92"/><rect x="259.8" y="1129.10" width="12.70" height="192.00"/><rect x="272.5" y="1175.18" width="14.00" height="145.92"/><rect x="286.5" y="1298.06" width="12.90" height="23.04"/><rect x="312.0" y="1313.42" width="13.70" height="7.68"/><rect x="325.7" y="1313.42" width="13.30" height="7.68"/><rect x="339.0" y="1313.42" width="13.30" height="7.68"/><rect x="352.3" y="1313.42" width="13.20" height="7.68"/><rect x="365.5" y="1317.26" width="13.20" height="3.84"/><rect x="405.3" y="1298.06" width="13.60" height="23.04"/><rect x="418.9" y="1298.06" width="12.90" height="23.04"/><rect x="431.8" y="1298.06" width="12.20" height="23.04"/><rect x="444.0" y="1313.42" width="12.30" height="7.68"/><rect x="517.5" y="1317.26" width="13.20" height="3.84"/><rect x="588.0" y="1317.26" width="13.20" height="3.84"/><rect x="155.2" y="1568.04" width="7.00" height="10.36"/><rect x="162.2" y="1557.68" width="6.30" height="20.72"/><rect x="168.5" y="1557.68" width="13.30" height="20.72"/><rect x="181.8" y="1381.56" width="13.70" height="196.84"/><rect x="195.5" y="1547.32" width="12.90" height="31.08"/><rect x="245.8" y="1568.04" width="14.40" height="10.36"/><rect x="260.2" y="1557.68" width="14.50" height="20.72"/><rect x="274.7" y="1547.32" width="14.10" height="31.08"/><rect x="332.4" y="1568.04" width="13.20" height="10.36"/><rect x="345.6" y="1568.04" width="13.20" height="10.36"/><rect x="395.8" y="1568.04" width="12.50" height="10.36"/><rect x="408.3" y="1423.00" width="13.50" height="155.40"/><rect x="421.8" y="1547.32" width="12.60" height="31.08"/><rect x="434.4" y="1557.68" width="14.00" height="20.72"/><rect x="448.4" y="1568.04" width="13.10" height="10.36"/></clipPath></defs>
<g clip-path="url(#barclip)" fill="none" stroke="#94604f" stroke-width="5.0" stroke-linejoin="round" stroke-linecap="round"><use href="#cve"/><use href="#cvd"/><use href="#cvc"/><use href="#cvb"/><use href="#cva"/></g>
<rect x="224.7" y="528.42" width="14.80" height="4.68" fill="none" stroke="rgba(95,95,90,0.45)" stroke-width="0.9"/>
<rect x="252.5" y="528.42" width="13.20" height="4.68" fill="none" stroke="rgba(95,95,90,0.45)" stroke-width="0.9"/>
<rect x="398.0" y="528.42" width="13.30" height="4.68" fill="none" stroke="rgba(95,95,90,0.45)" stroke-width="0.9"/>
<rect x="411.3" y="481.66" width="12.40" height="51.44" fill="none" stroke="rgba(95,95,90,0.45)" stroke-width="0.9"/>
<rect x="423.7" y="341.38" width="14.00" height="191.72" fill="none" stroke="rgba(95,95,90,0.45)" stroke-width="0.9"/>
<rect x="437.7" y="523.75" width="12.80" height="9.35" fill="none" stroke="rgba(95,95,90,0.45)" stroke-width="0.9"/>
<rect x="557.0" y="528.42" width="14.40" height="4.68" fill="none" stroke="rgba(95,95,90,0.45)" stroke-width="0.9"/>
<rect x="88.7" y="734.36" width="13.10" height="65.94" fill="none" stroke="rgba(95,95,90,0.45)" stroke-width="0.9"/>
<rect x="180.4" y="781.46" width="13.40" height="18.84" fill="none" stroke="rgba(95,95,90,0.45)" stroke-width="0.9"/>
<rect x="273.4" y="790.88" width="14.10" height="9.42" fill="none" stroke="rgba(95,95,90,0.45)" stroke-width="0.9"/>
<rect x="379.3" y="790.88" width="12.90" height="9.42" fill="none" stroke="rgba(95,95,90,0.45)" stroke-width="0.9"/>
<rect x="392.2" y="781.46" width="13.50" height="18.84" fill="none" stroke="rgba(95,95,90,0.45)" stroke-width="0.9"/>
<rect x="405.7" y="640.16" width="12.80" height="160.14" fill="none" stroke="rgba(95,95,90,0.45)" stroke-width="0.9"/>
<rect x="418.5" y="611.90" width="14.10" height="188.40" fill="none" stroke="rgba(95,95,90,0.45)" stroke-width="0.9"/>
<rect x="432.6" y="772.04" width="12.90" height="28.26" fill="none" stroke="rgba(95,95,90,0.45)" stroke-width="0.9"/>
<rect x="218.4" y="1045.70" width="14.20" height="15.40" fill="none" stroke="rgba(95,95,90,0.45)" stroke-width="0.9"/>
<rect x="245.2" y="1045.70" width="13.80" height="15.40" fill="none" stroke="rgba(95,95,90,0.45)" stroke-width="0.9"/>
<rect x="259.0" y="1045.70" width="14.20" height="15.40" fill="none" stroke="rgba(95,95,90,0.45)" stroke-width="0.9"/>
<rect x="312.3" y="1045.70" width="13.20" height="15.40" fill="none" stroke="rgba(95,95,90,0.45)" stroke-width="0.9"/>
<rect x="325.5" y="907.10" width="13.00" height="154.00" fill="none" stroke="rgba(95,95,90,0.45)" stroke-width="0.9"/>
<rect x="338.5" y="937.90" width="13.80" height="123.20" fill="none" stroke="rgba(95,95,90,0.45)" stroke-width="0.9"/>
<rect x="352.3" y="1030.30" width="12.90" height="30.80" fill="none" stroke="rgba(95,95,90,0.45)" stroke-width="0.9"/>
<rect x="404.9" y="860.90" width="13.20" height="200.20" fill="none" stroke="rgba(95,95,90,0.45)" stroke-width="0.9"/>
<rect x="418.1" y="922.50" width="13.40" height="138.60" fill="none" stroke="rgba(95,95,90,0.45)" stroke-width="0.9"/>
<rect x="114.1" y="1286.54" width="13.00" height="34.56" fill="none" stroke="rgba(95,95,90,0.45)" stroke-width="0.9"/>
<rect x="164.8" y="1263.50" width="12.50" height="57.60" fill="none" stroke="rgba(95,95,90,0.45)" stroke-width="0.9"/>
<rect x="179.9" y="1213.58" width="12.40" height="107.52" fill="none" stroke="rgba(95,95,90,0.45)" stroke-width="0.9"/>
<rect x="192.3" y="1294.22" width="13.80" height="26.88" fill="none" stroke="rgba(95,95,90,0.45)" stroke-width="0.9"/>
<rect x="206.1" y="1282.70" width="13.60" height="38.40" fill="none" stroke="rgba(95,95,90,0.45)" stroke-width="0.9"/>
<rect x="219.7" y="1290.38" width="12.70" height="30.72" fill="none" stroke="rgba(95,95,90,0.45)" stroke-width="0.9"/>
<rect x="232.4" y="1309.58" width="13.80" height="11.52" fill="none" stroke="rgba(95,95,90,0.45)" stroke-width="0.9"/>
<rect x="246.2" y="1271.18" width="13.60" height="49.92" fill="none" stroke="rgba(95,95,90,0.45)" stroke-width="0.9"/>
<rect x="259.8" y="1129.10" width="12.70" height="192.00" fill="none" stroke="rgba(95,95,90,0.45)" stroke-width="0.9"/>
<rect x="272.5" y="1175.18" width="14.00" height="145.92" fill="none" stroke="rgba(95,95,90,0.45)" stroke-width="0.9"/>
<rect x="286.5" y="1298.06" width="12.90" height="23.04" fill="none" stroke="rgba(95,95,90,0.45)" stroke-width="0.9"/>
<rect x="312.0" y="1313.42" width="13.70" height="7.68" fill="none" stroke="rgba(95,95,90,0.45)" stroke-width="0.9"/>
<rect x="325.7" y="1313.42" width="13.30" height="7.68" fill="none" stroke="rgba(95,95,90,0.45)" stroke-width="0.9"/>
<rect x="339.0" y="1313.42" width="13.30" height="7.68" fill="none" stroke="rgba(95,95,90,0.45)" stroke-width="0.9"/>
<rect x="352.3" y="1313.42" width="13.20" height="7.68" fill="none" stroke="rgba(95,95,90,0.45)" stroke-width="0.9"/>
<rect x="365.5" y="1317.26" width="13.20" height="3.84" fill="none" stroke="rgba(95,95,90,0.45)" stroke-width="0.9"/>
<rect x="405.3" y="1298.06" width="13.60" height="23.04" fill="none" stroke="rgba(95,95,90,0.45)" stroke-width="0.9"/>
<rect x="418.9" y="1298.06" width="12.90" height="23.04" fill="none" stroke="rgba(95,95,90,0.45)" stroke-width="0.9"/>
<rect x="431.8" y="1298.06" width="12.20" height="23.04" fill="none" stroke="rgba(95,95,90,0.45)" stroke-width="0.9"/>
<rect x="444.0" y="1313.42" width="12.30" height="7.68" fill="none" stroke="rgba(95,95,90,0.45)" stroke-width="0.9"/>
<rect x="517.5" y="1317.26" width="13.20" height="3.84" fill="none" stroke="rgba(95,95,90,0.45)" stroke-width="0.9"/>
<rect x="588.0" y="1317.26" width="13.20" height="3.84" fill="none" stroke="rgba(95,95,90,0.45)" stroke-width="0.9"/>
<rect x="155.2" y="1568.04" width="7.00" height="10.36" fill="none" stroke="rgba(95,95,90,0.45)" stroke-width="0.9"/>
<rect x="162.2" y="1557.68" width="6.30" height="20.72" fill="none" stroke="rgba(95,95,90,0.45)" stroke-width="0.9"/>
<rect x="168.5" y="1557.68" width="13.30" height="20.72" fill="none" stroke="rgba(95,95,90,0.45)" stroke-width="0.9"/>
<rect x="181.8" y="1381.56" width="13.70" height="196.84" fill="none" stroke="rgba(95,95,90,0.45)" stroke-width="0.9"/>
<rect x="195.5" y="1547.32" width="12.90" height="31.08" fill="none" stroke="rgba(95,95,90,0.45)" stroke-width="0.9"/>
<rect x="245.8" y="1568.04" width="14.40" height="10.36" fill="none" stroke="rgba(95,95,90,0.45)" stroke-width="0.9"/>
<rect x="260.2" y="1557.68" width="14.50" height="20.72" fill="none" stroke="rgba(95,95,90,0.45)" stroke-width="0.9"/>
<rect x="274.7" y="1547.32" width="14.10" height="31.08" fill="none" stroke="rgba(95,95,90,0.45)" stroke-width="0.9"/>
<rect x="332.4" y="1568.04" width="13.20" height="10.36" fill="none" stroke="rgba(95,95,90,0.45)" stroke-width="0.9"/>
<rect x="345.6" y="1568.04" width="13.20" height="10.36" fill="none" stroke="rgba(95,95,90,0.45)" stroke-width="0.9"/>
<rect x="395.8" y="1568.04" width="12.50" height="10.36" fill="none" stroke="rgba(95,95,90,0.45)" stroke-width="0.9"/>
<rect x="408.3" y="1423.00" width="13.50" height="155.40" fill="none" stroke="rgba(95,95,90,0.45)" stroke-width="0.9"/>
<rect x="421.8" y="1547.32" width="12.60" height="31.08" fill="none" stroke="rgba(95,95,90,0.45)" stroke-width="0.9"/>
<rect x="434.4" y="1557.68" width="14.00" height="20.72" fill="none" stroke="rgba(95,95,90,0.45)" stroke-width="0.9"/>
<rect x="448.4" y="1568.04" width="13.10" height="10.36" fill="none" stroke="rgba(95,95,90,0.45)" stroke-width="0.9"/>
<text x="0.2" y="287.2" font-size="20.2" font-weight="bold" fill="#111" text-anchor="start" >e</text>
<text x="0.2" y="544.7" font-size="20.2" font-weight="bold" fill="#111" text-anchor="start" >d</text>
<text x="0.2" y="811.9" font-size="20.2" font-weight="bold" fill="#111" text-anchor="start" >c</text>
<text x="0.2" y="1072.7" font-size="20.2" font-weight="bold" fill="#111" text-anchor="start" >b</text>
<text x="0.2" y="1332.7" font-size="20.2" font-weight="bold" fill="#111" text-anchor="start" >a</text>
<text transform="translate(35.7,404.0) rotate(-90)" font-size="18.3" font-weight="normal" fill="#3a3a3a" text-anchor="middle" textLength="65" lengthAdjust="spacingAndGlyphs" >Number</text>
<text transform="translate(35.7,666.8) rotate(-90)" font-size="18.3" font-weight="normal" fill="#3a3a3a" text-anchor="middle" textLength="65" lengthAdjust="spacingAndGlyphs" >Number</text>
<text transform="translate(35.7,930.8) rotate(-90)" font-size="18.3" font-weight="normal" fill="#3a3a3a" text-anchor="middle" textLength="65" lengthAdjust="spacingAndGlyphs" >Number</text>
<text transform="translate(35.7,1190.8) rotate(-90)" font-size="18.3" font-weight="normal" fill="#3a3a3a" text-anchor="middle" textLength="65" lengthAdjust="spacingAndGlyphs" >Number</text>
<text transform="translate(35.7,1451.3) rotate(-90)" font-size="18.3" font-weight="normal" fill="#3a3a3a" text-anchor="middle" textLength="65" lengthAdjust="spacingAndGlyphs" >Number</text>
<text transform="translate(666.1,404.6) rotate(90)" font-size="18" font-weight="normal" fill="#a2303a" text-anchor="middle" textLength="155.0" lengthAdjust="spacingAndGlyphs" >Relative probability</text>
<text transform="translate(666.1,665.3) rotate(90)" font-size="18" font-weight="normal" fill="#a2303a" text-anchor="middle" textLength="155.0" lengthAdjust="spacingAndGlyphs" >Relative probability</text>
<text transform="translate(666.1,926.0) rotate(90)" font-size="18" font-weight="normal" fill="#a2303a" text-anchor="middle" textLength="155.0" lengthAdjust="spacingAndGlyphs" >Relative probability</text>
<text transform="translate(666.1,1189.6) rotate(90)" font-size="18" font-weight="normal" fill="#a2303a" text-anchor="middle" textLength="155.0" lengthAdjust="spacingAndGlyphs" >Relative probability</text>
<text transform="translate(666.1,1451.7) rotate(90)" font-size="18" font-weight="normal" fill="#a2303a" text-anchor="middle" textLength="155.0" lengthAdjust="spacingAndGlyphs" >Relative probability</text>
<text transform="translate(610.1,404.35) rotate(-90)" font-size="16.5" font-weight="normal" fill="#ececec" text-anchor="middle" textLength="135.9" lengthAdjust="spacingAndGlyphs" >TZ71806-1b; <tspan font-style="italic">n</tspan> = 59</text>
<text transform="translate(629.8,403.4) rotate(-90)" font-size="16.5" font-weight="normal" fill="#ececec" text-anchor="middle" textLength="152.4" lengthAdjust="spacingAndGlyphs" >Modern Songwe River</text>
<text transform="translate(600.8,665.0) rotate(-90)" font-size="16.5" font-weight="normal" fill="#ececec" text-anchor="middle" textLength="130.9" lengthAdjust="spacingAndGlyphs" >TZ71505-6; <tspan font-style="italic">n</tspan> = 54</text>
<text transform="translate(623.3,665.15) rotate(-90)" font-size="16.5" font-weight="normal" fill="#ececec" text-anchor="middle" textLength="162.1" lengthAdjust="spacingAndGlyphs" >Late Oligocene Songwe</text>
<text transform="translate(645.8,664.95) rotate(-90)" font-size="16.5" font-weight="normal" fill="#ececec" text-anchor="middle" textLength="141.1" lengthAdjust="spacingAndGlyphs" >Mbr of Nsungwe Fm</text>
<text transform="translate(600.4,925.0) rotate(-90)" font-size="16.5" font-weight="normal" fill="#ececec" text-anchor="middle" textLength="126.1" lengthAdjust="spacingAndGlyphs" >TZ6807-3; <tspan font-style="italic">n</tspan> = 46</text>
<text transform="translate(623.1,924.6) rotate(-90)" font-size="16.5" font-weight="normal" fill="#ececec" text-anchor="middle" textLength="154.9" lengthAdjust="spacingAndGlyphs" >Palaeogene? Utengule</text>
<text transform="translate(646.4,925.0) rotate(-90)" font-size="16.5" font-weight="normal" fill="#ececec" text-anchor="middle" textLength="140.9" lengthAdjust="spacingAndGlyphs" >Mbr of Nsungwe Fm</text>
<text transform="translate(598.8,1190.9) rotate(-90)" font-size="16.5" font-weight="normal" fill="#ececec" text-anchor="middle" textLength="188.5" lengthAdjust="spacingAndGlyphs" >TZ71706-14; TZ 71406-2 &amp;</text>
<text transform="translate(614.1,1188.4) rotate(-90)" font-size="16.5" font-weight="normal" fill="#ececec" text-anchor="middle" textLength="99.5" lengthAdjust="spacingAndGlyphs" >TZ7/7; <tspan font-style="italic">n</tspan> = 217</text>
<text transform="translate(630.0,1191.3) rotate(-90)" font-size="16.5" font-weight="normal" fill="#ececec" text-anchor="middle" textLength="166.2" lengthAdjust="spacingAndGlyphs" >Cretaceous Namba Mbr</text>
<text transform="translate(646.0,1190.0) rotate(-90)" font-size="16.5" font-weight="normal" fill="#ececec" text-anchor="middle" textLength="183.5" lengthAdjust="spacingAndGlyphs" >Galula Fm (three samples)</text>
<text transform="translate(610.4,1452.5) rotate(-90)" font-size="16.5" font-weight="normal" fill="#ececec" text-anchor="middle" textLength="109.4" lengthAdjust="spacingAndGlyphs" >TZ2-UT; <tspan font-style="italic">n</tspan> = 56</text>
<text transform="translate(630.2,1451.3) rotate(-90)" font-size="16.5" font-weight="normal" fill="#ececec" text-anchor="middle" textLength="235.3" lengthAdjust="spacingAndGlyphs" >Cretaceous Mtuka Mbr Galula Fm</text>
<text transform="translate(118.6,137.2) rotate(-90)" font-size="15.6" font-weight="normal" fill="#111" text-anchor="middle" textLength="128.2" lengthAdjust="spacingAndGlyphs" stroke="#111" stroke-width="0.5" stroke-linejoin="round">Alkaline volcanics</text>
<text transform="translate(138.0,137.4) rotate(-90)" font-size="15.6" font-weight="normal" fill="#111" text-anchor="middle" textLength="222.6" lengthAdjust="spacingAndGlyphs" stroke="#111" stroke-width="0.5" stroke-linejoin="round">(~160 Myr ago and 25 Myr ago)</text>
<text transform="translate(184.9,137.3) rotate(-90)" font-size="12.6" font-weight="bold" fill="#111" text-anchor="middle" textLength="200.0" lengthAdjust="spacingAndGlyphs" stroke="#111" stroke-width="0.05">Zimbabwe and Mozambique belts</text>
<text transform="translate(201.5,137.75) rotate(-90)" font-size="12.6" font-weight="bold" fill="#111" text-anchor="middle" textLength="262.1" lengthAdjust="spacingAndGlyphs" stroke="#111" stroke-width="0.05">Late Pan-African event (0.65–0.45 Gyr ago)</text>
<text transform="translate(218.2,137.9) rotate(-90)" font-size="12.6" font-weight="bold" fill="#111" text-anchor="middle" textLength="258.4" lengthAdjust="spacingAndGlyphs" stroke="#111" stroke-width="0.05">Early Pan-African event (0.8–0.65 Gyr ago)</text>
<text transform="translate(275.1,137.65) rotate(-90)" font-size="15.6" font-weight="normal" fill="#111" text-anchor="middle" textLength="209.7" lengthAdjust="spacingAndGlyphs" stroke="#111" stroke-width="0.5" stroke-linejoin="round">Irumide belt (1.0–1.1 Gyr ago)</text>
<text transform="translate(341.5,136.9) rotate(-90)" font-size="15.6" font-weight="normal" fill="#111" text-anchor="middle" textLength="243.2" lengthAdjust="spacingAndGlyphs" stroke="#111" stroke-width="0.5" stroke-linejoin="round">Kibaran belt and Karagwe–Ankole</text>
<text transform="translate(361.2,137.5) rotate(-90)" font-size="15.6" font-weight="normal" fill="#111" text-anchor="middle" textLength="151.6" lengthAdjust="spacingAndGlyphs" stroke="#111" stroke-width="0.5" stroke-linejoin="round">belt (1.3–1.5 Gyr ago)</text>
<text transform="translate(453.0,139.0) rotate(-90)" font-size="15.6" font-weight="normal" fill="#111" text-anchor="middle" textLength="252.7" lengthAdjust="spacingAndGlyphs" stroke="#111" stroke-width="0.5" stroke-linejoin="round">Ubendian belt and Bangweulu block</text>
<text transform="translate(472.4,137.3) rotate(-90)" font-size="15.6" font-weight="normal" fill="#111" text-anchor="middle" textLength="228.4" lengthAdjust="spacingAndGlyphs" stroke="#111" stroke-width="0.5" stroke-linejoin="round">(2.0–1.8 Gyr ago) Usagaran belt</text>
<text transform="translate(492.3,137.4) rotate(-90)" font-size="15.6" font-weight="normal" fill="#111" text-anchor="middle" textLength="126.0" lengthAdjust="spacingAndGlyphs" stroke="#111" stroke-width="0.5" stroke-linejoin="round">(2.1–2.0 Gyr ago)</text>
<text transform="translate(592.8,137.15) rotate(-90)" font-size="15.6" font-weight="normal" fill="#111" text-anchor="middle" textLength="181.7" lengthAdjust="spacingAndGlyphs" stroke="#111" stroke-width="0.5" stroke-linejoin="round">Archaean cratonic source</text>
<text x="89.3" y="1604.7" font-size="19.4" font-weight="normal" fill="#474747" text-anchor="middle" >0</text>
<text x="230.0" y="1604.7" font-size="19.4" font-weight="normal" fill="#474747" text-anchor="middle" textLength="35.2" lengthAdjust="spacingAndGlyphs" >800</text>
<text x="370.5" y="1604.7" font-size="19.4" font-weight="normal" fill="#474747" text-anchor="middle" textLength="46.6" lengthAdjust="spacingAndGlyphs" >1,600</text>
<text x="511.2" y="1604.7" font-size="19.4" font-weight="normal" fill="#474747" text-anchor="middle" textLength="51.1" lengthAdjust="spacingAndGlyphs" >2,400</text>
<text x="652.5" y="1604.7" font-size="19.4" font-weight="normal" fill="#474747" text-anchor="middle" textLength="49.8" lengthAdjust="spacingAndGlyphs" >3,200</text>
<text x="289.7" y="1635.0" font-size="17.7" font-weight="normal" fill="#3a3a3a" text-anchor="start" textLength="161.2" lengthAdjust="spacingAndGlyphs" >Preferred age (Myr)</text>
</svg>
</body></html>
